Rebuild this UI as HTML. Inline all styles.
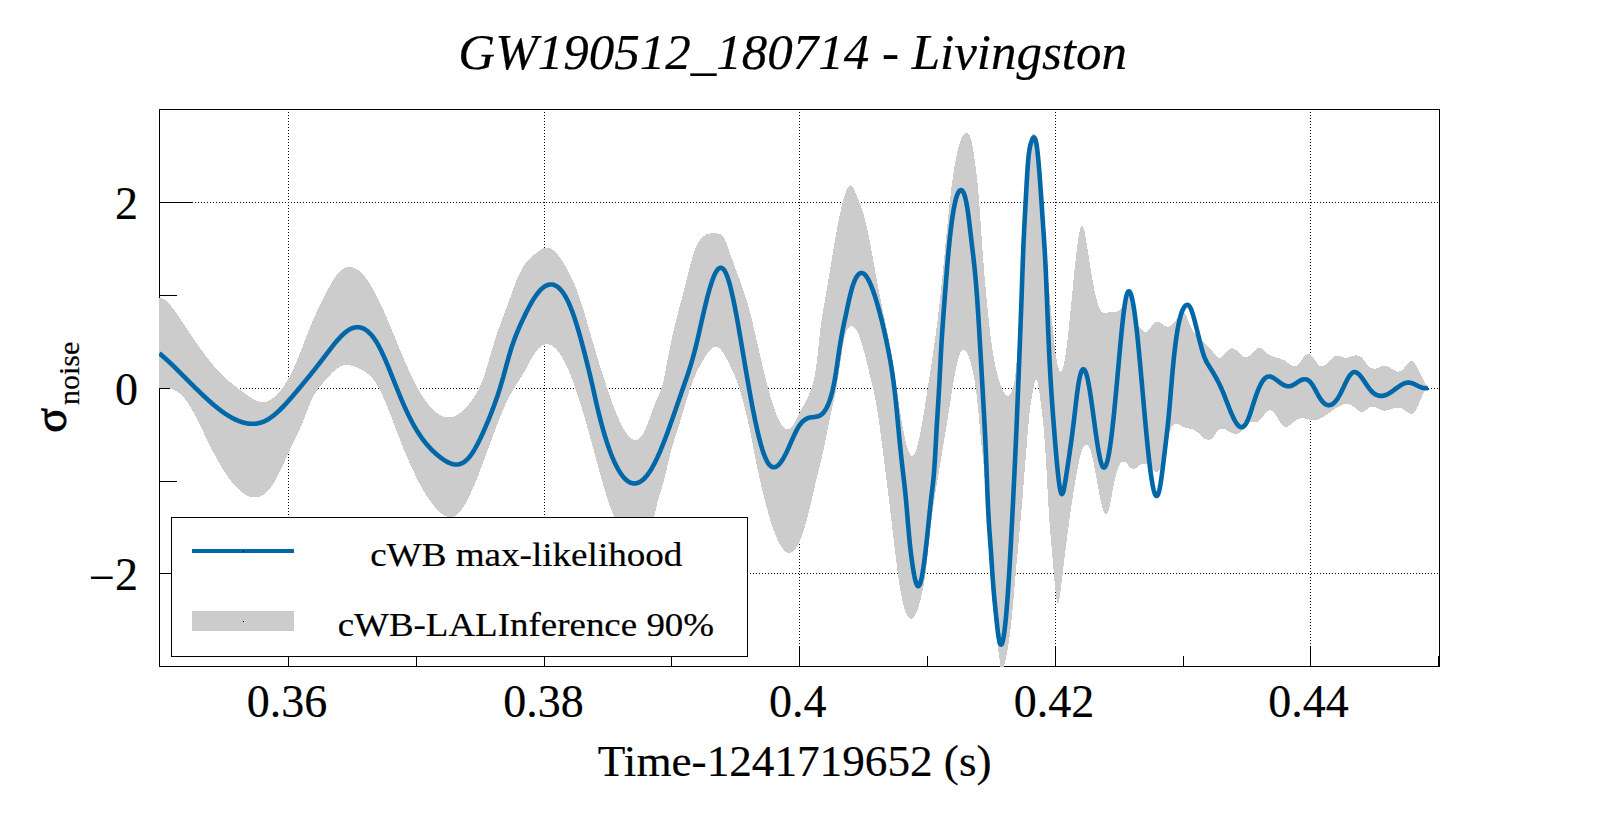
<!DOCTYPE html>
<html lang="en"><head><meta charset="utf-8"><title>GW190512_180714 - Livingston</title>
<style>html,body{margin:0;padding:0;background:#fff}body{width:1599px;height:813px;overflow:hidden}svg{display:block}text{font-family:"Liberation Serif","DejaVu Serif",serif;fill:#000;stroke:#000;stroke-width:0.2px}</style></head><body>
<svg width="1599" height="813" viewBox="0 0 1599 813">
<rect width="1599" height="813" fill="#fff"/>
<defs><clipPath id="fr"><rect x="159" y="109" width="1281" height="558"/></clipPath></defs>
<g stroke="#000" stroke-width="1" shape-rendering="crispEdges" fill="none"><g stroke-dasharray="1 2"><line x1="288.5" y1="646.5" x2="288.5" y2="109.5"/><line x1="544.5" y1="646.5" x2="544.5" y2="109.5"/><line x1="799.5" y1="646.5" x2="799.5" y2="109.5"/><line x1="1055.5" y1="646.5" x2="1055.5" y2="109.5"/><line x1="1310.5" y1="646.5" x2="1310.5" y2="109.5"/><line x1="191.5" y1="202.5" x2="1439.5" y2="202.5"/><line x1="191.5" y1="388.5" x2="1439.5" y2="388.5"/><line x1="191.5" y1="573.5" x2="1439.5" y2="573.5"/></g><rect x="159.5" y="109.5" width="1280.0" height="557.0"/><line x1="288.5" y1="666.5" x2="288.5" y2="646.5"/><line x1="416.5" y1="666.5" x2="416.5" y2="655.5"/><line x1="544.5" y1="666.5" x2="544.5" y2="646.5"/><line x1="671.5" y1="666.5" x2="671.5" y2="655.5"/><line x1="799.5" y1="666.5" x2="799.5" y2="646.5"/><line x1="927.5" y1="666.5" x2="927.5" y2="655.5"/><line x1="1055.5" y1="666.5" x2="1055.5" y2="646.5"/><line x1="1183.5" y1="666.5" x2="1183.5" y2="655.5"/><line x1="1310.5" y1="666.5" x2="1310.5" y2="646.5"/><line x1="1438.5" y1="666.5" x2="1438.5" y2="655.5"/><line x1="159.5" y1="202.5" x2="192.5" y2="202.5"/><line x1="159.5" y1="388.5" x2="192.5" y2="388.5"/><line x1="159.5" y1="573.5" x2="192.5" y2="573.5"/><line x1="159.5" y1="295.5" x2="176.5" y2="295.5"/><line x1="159.5" y1="481.5" x2="176.5" y2="481.5"/></g>
<g clip-path="url(#fr)"><path d="M159.0 297.5L159.5 297.5L160.0 297.6L160.5 297.7L161.0 297.9L161.5 298.1L162.0 298.3L162.5 298.5L163.0 298.8L163.5 299.0L164.0 299.3L164.5 299.7L165.0 300.0L165.5 300.4L166.0 300.8L166.5 301.2L167.0 301.7L167.5 302.1L168.0 302.6L168.5 303.1L169.0 303.6L169.5 304.2L170.0 304.7L170.5 305.3L171.0 305.9L171.5 306.5L172.0 307.1L172.5 307.7L173.0 308.3L173.5 309.0L174.0 309.7L174.5 310.3L175.0 311.0L175.5 311.7L176.0 312.4L176.5 313.1L177.0 313.8L177.5 314.6L178.0 315.3L178.5 316.0L179.0 316.8L179.5 317.5L180.0 318.3L180.5 319.1L181.0 319.8L181.5 320.6L182.0 321.3L182.5 322.1L183.0 322.9L183.5 323.6L184.0 324.4L184.5 325.1L185.0 325.9L185.5 326.7L186.0 327.4L186.5 328.2L187.0 328.9L187.5 329.7L188.0 330.4L188.5 331.2L189.0 331.9L189.5 332.7L190.0 333.4L190.5 334.2L191.0 334.9L191.5 335.7L192.0 336.4L192.5 337.2L193.0 337.9L193.5 338.6L194.0 339.4L194.5 340.1L195.0 340.8L195.5 341.5L196.0 342.3L196.5 343.0L197.0 343.7L197.5 344.4L198.0 345.1L198.5 345.9L199.0 346.6L199.5 347.3L200.0 348.0L200.5 348.7L201.0 349.4L201.5 350.1L202.0 350.8L202.5 351.4L203.0 352.1L203.5 352.8L204.0 353.5L204.5 354.1L205.0 354.8L205.5 355.5L206.0 356.1L206.5 356.8L207.0 357.4L207.5 358.1L208.0 358.7L208.5 359.4L209.0 360.0L209.5 360.6L210.0 361.2L210.5 361.9L211.0 362.5L211.5 363.1L212.0 363.7L212.5 364.3L213.0 364.9L213.5 365.5L214.0 366.0L214.5 366.6L215.0 367.2L215.5 367.7L216.0 368.3L216.5 368.9L217.0 369.4L217.5 369.9L218.0 370.5L218.5 371.0L219.0 371.5L219.5 372.1L220.0 372.6L220.5 373.1L221.0 373.6L221.5 374.1L222.0 374.6L222.5 375.1L223.0 375.6L223.5 376.0L224.0 376.5L224.5 377.0L225.0 377.5L225.5 377.9L226.0 378.4L226.5 378.8L227.0 379.3L227.5 379.8L228.0 380.2L228.5 380.6L229.0 381.1L229.5 381.5L230.0 381.9L230.5 382.4L231.0 382.8L231.5 383.2L232.0 383.6L232.5 384.0L233.0 384.4L233.5 384.9L234.0 385.3L234.5 385.7L235.0 386.1L235.5 386.4L236.0 386.8L236.5 387.2L237.0 387.6L237.5 388.0L238.0 388.4L238.5 388.8L239.0 389.1L239.5 389.5L240.0 389.9L240.5 390.3L241.0 390.6L241.5 391.0L242.0 391.4L242.5 391.7L243.0 392.1L243.5 392.4L244.0 392.8L244.5 393.2L245.0 393.5L245.5 393.9L246.0 394.2L246.5 394.6L247.0 394.9L247.5 395.3L248.0 395.6L248.5 396.0L249.0 396.3L249.5 396.7L250.0 397.0L250.5 397.3L251.0 397.7L251.5 398.0L252.0 398.3L252.5 398.6L253.0 398.9L253.5 399.2L254.0 399.5L254.5 399.7L255.0 400.0L255.5 400.2L256.0 400.5L256.5 400.7L257.0 400.9L257.5 401.1L258.0 401.3L258.5 401.4L259.0 401.6L259.5 401.7L260.0 401.8L260.5 401.9L261.0 402.0L261.5 402.0L262.0 402.0L262.5 402.1L263.0 402.0L263.5 402.0L264.0 402.0L264.5 401.9L265.0 401.8L265.5 401.7L266.0 401.6L266.5 401.5L267.0 401.3L267.5 401.2L268.0 401.0L268.5 400.8L269.0 400.5L269.5 400.3L270.0 400.0L270.5 399.7L271.0 399.4L271.5 399.1L272.0 398.8L272.5 398.4L273.0 398.1L273.5 397.7L274.0 397.3L274.5 396.9L275.0 396.4L275.5 396.0L276.0 395.5L276.5 395.0L277.0 394.5L277.5 394.0L278.0 393.5L278.5 392.9L279.0 392.3L279.5 391.8L280.0 391.1L280.5 390.5L281.0 389.9L281.5 389.2L282.0 388.6L282.5 387.9L283.0 387.2L283.5 386.5L284.0 385.7L284.5 385.0L285.0 384.2L285.5 383.4L286.0 382.6L286.5 381.8L287.0 381.0L287.5 380.2L288.0 379.3L288.5 378.4L289.0 377.5L289.5 376.6L290.0 375.7L290.5 374.7L291.0 373.8L291.5 372.8L292.0 371.8L292.5 370.8L293.0 369.7L293.5 368.6L294.0 367.6L294.5 366.5L295.0 365.3L295.5 364.2L296.0 363.0L296.5 361.9L297.0 360.7L297.5 359.5L298.0 358.2L298.5 357.0L299.0 355.8L299.5 354.5L300.0 353.2L300.5 351.9L301.0 350.7L301.5 349.4L302.0 348.1L302.5 346.8L303.0 345.5L303.5 344.1L304.0 342.8L304.5 341.5L305.0 340.2L305.5 338.9L306.0 337.6L306.5 336.3L307.0 335.0L307.5 333.7L308.0 332.4L308.5 331.2L309.0 329.9L309.5 328.7L310.0 327.4L310.5 326.2L311.0 325.0L311.5 323.8L312.0 322.6L312.5 321.5L313.0 320.3L313.5 319.1L314.0 318.0L314.5 316.9L315.0 315.8L315.5 314.7L316.0 313.6L316.5 312.5L317.0 311.4L317.5 310.3L318.0 309.3L318.5 308.2L319.0 307.2L319.5 306.1L320.0 305.1L320.5 304.1L321.0 303.1L321.5 302.0L322.0 301.0L322.5 300.0L323.0 299.0L323.5 298.0L324.0 297.0L324.5 296.1L325.0 295.1L325.5 294.1L326.0 293.1L326.5 292.1L327.0 291.2L327.5 290.2L328.0 289.3L328.5 288.3L329.0 287.4L329.5 286.5L330.0 285.5L330.5 284.6L331.0 283.8L331.5 282.9L332.0 282.0L332.5 281.2L333.0 280.4L333.5 279.6L334.0 278.8L334.5 278.0L335.0 277.3L335.5 276.6L336.0 275.9L336.5 275.2L337.0 274.6L337.5 273.9L338.0 273.3L338.5 272.8L339.0 272.2L339.5 271.7L340.0 271.3L340.5 270.8L341.0 270.4L341.5 270.0L342.0 269.6L342.5 269.2L343.0 268.9L343.5 268.6L344.0 268.3L344.5 268.1L345.0 267.8L345.5 267.6L346.0 267.5L346.5 267.3L347.0 267.2L347.5 267.1L348.0 267.0L348.5 266.9L349.0 266.9L349.5 266.9L350.0 266.9L350.5 266.9L351.0 267.0L351.5 267.1L352.0 267.2L352.5 267.3L353.0 267.4L353.5 267.6L354.0 267.8L354.5 268.0L355.0 268.2L355.5 268.5L356.0 268.8L356.5 269.1L357.0 269.4L357.5 269.7L358.0 270.1L358.5 270.4L359.0 270.8L359.5 271.2L360.0 271.7L360.5 272.1L361.0 272.6L361.5 273.1L362.0 273.6L362.5 274.1L363.0 274.7L363.5 275.2L364.0 275.8L364.5 276.4L365.0 277.0L365.5 277.7L366.0 278.3L366.5 279.0L367.0 279.7L367.5 280.4L368.0 281.1L368.5 281.8L369.0 282.6L369.5 283.3L370.0 284.1L370.5 284.9L371.0 285.7L371.5 286.6L372.0 287.4L372.5 288.3L373.0 289.1L373.5 290.0L374.0 290.9L374.5 291.8L375.0 292.8L375.5 293.7L376.0 294.7L376.5 295.6L377.0 296.6L377.5 297.6L378.0 298.6L378.5 299.7L379.0 300.7L379.5 301.7L380.0 302.8L380.5 303.8L381.0 304.9L381.5 306.0L382.0 307.1L382.5 308.2L383.0 309.3L383.5 310.4L384.0 311.5L384.5 312.7L385.0 313.8L385.5 315.0L386.0 316.1L386.5 317.3L387.0 318.4L387.5 319.6L388.0 320.8L388.5 322.0L389.0 323.2L389.5 324.4L390.0 325.5L390.5 326.7L391.0 327.9L391.5 329.2L392.0 330.4L392.5 331.6L393.0 332.8L393.5 334.0L394.0 335.2L394.5 336.4L395.0 337.7L395.5 338.9L396.0 340.1L396.5 341.3L397.0 342.5L397.5 343.7L398.0 345.0L398.5 346.2L399.0 347.4L399.5 348.6L400.0 349.8L400.5 351.0L401.0 352.2L401.5 353.4L402.0 354.6L402.5 355.8L403.0 357.0L403.5 358.1L404.0 359.3L404.5 360.5L405.0 361.6L405.5 362.8L406.0 363.9L406.5 365.1L407.0 366.2L407.5 367.3L408.0 368.4L408.5 369.6L409.0 370.7L409.5 371.7L410.0 372.8L410.5 373.9L411.0 375.0L411.5 376.0L412.0 377.1L412.5 378.1L413.0 379.1L413.5 380.1L414.0 381.1L414.5 382.1L415.0 383.1L415.5 384.0L416.0 385.0L416.5 385.9L417.0 386.8L417.5 387.7L418.0 388.6L418.5 389.5L419.0 390.4L419.5 391.3L420.0 392.1L420.5 393.0L421.0 393.8L421.5 394.6L422.0 395.4L422.5 396.2L423.0 397.0L423.5 397.7L424.0 398.5L424.5 399.2L425.0 399.9L425.5 400.6L426.0 401.3L426.5 402.0L427.0 402.7L427.5 403.3L428.0 404.0L428.5 404.6L429.0 405.2L429.5 405.8L430.0 406.4L430.5 407.0L431.0 407.5L431.5 408.1L432.0 408.6L432.5 409.1L433.0 409.6L433.5 410.1L434.0 410.5L434.5 411.0L435.0 411.4L435.5 411.9L436.0 412.3L436.5 412.7L437.0 413.0L437.5 413.4L438.0 413.7L438.5 414.1L439.0 414.4L439.5 414.7L440.0 415.0L440.5 415.2L441.0 415.5L441.5 415.7L442.0 416.0L442.5 416.2L443.0 416.3L443.5 416.5L444.0 416.7L444.5 416.8L445.0 416.9L445.5 417.0L446.0 417.1L446.5 417.2L447.0 417.3L447.5 417.3L448.0 417.3L448.5 417.3L449.0 417.3L449.5 417.3L450.0 417.2L450.5 417.2L451.0 417.1L451.5 417.0L452.0 416.9L452.5 416.8L453.0 416.6L453.5 416.5L454.0 416.3L454.5 416.1L455.0 415.9L455.5 415.7L456.0 415.4L456.5 415.2L457.0 414.9L457.5 414.6L458.0 414.3L458.5 414.0L459.0 413.7L459.5 413.3L460.0 413.0L460.5 412.6L461.0 412.2L461.5 411.8L462.0 411.4L462.5 410.9L463.0 410.5L463.5 410.0L464.0 409.6L464.5 409.1L465.0 408.6L465.5 408.0L466.0 407.5L466.5 407.0L467.0 406.4L467.5 405.8L468.0 405.3L468.5 404.7L469.0 404.0L469.5 403.4L470.0 402.8L470.5 402.1L471.0 401.5L471.5 400.8L472.0 400.1L472.5 399.4L473.0 398.7L473.5 398.0L474.0 397.2L474.5 396.4L475.0 395.7L475.5 394.9L476.0 394.0L476.5 393.2L477.0 392.3L477.5 391.4L478.0 390.4L478.5 389.5L479.0 388.5L479.5 387.4L480.0 386.3L480.5 385.2L481.0 384.1L481.5 382.8L482.0 381.6L482.5 380.3L483.0 378.9L483.5 377.6L484.0 376.1L484.5 374.6L485.0 373.1L485.5 371.6L486.0 370.0L486.5 368.4L487.0 366.8L487.5 365.1L488.0 363.5L488.5 361.8L489.0 360.1L489.5 358.4L490.0 356.7L490.5 355.0L491.0 353.3L491.5 351.5L492.0 349.8L492.5 348.2L493.0 346.5L493.5 344.8L494.0 343.2L494.5 341.5L495.0 339.9L495.5 338.4L496.0 336.8L496.5 335.3L497.0 333.8L497.5 332.3L498.0 330.9L498.5 329.4L499.0 328.0L499.5 326.6L500.0 325.2L500.5 323.9L501.0 322.5L501.5 321.1L502.0 319.8L502.5 318.4L503.0 317.1L503.5 315.8L504.0 314.4L504.5 313.1L505.0 311.8L505.5 310.4L506.0 309.1L506.5 307.7L507.0 306.4L507.5 305.0L508.0 303.6L508.5 302.2L509.0 300.9L509.5 299.5L510.0 298.1L510.5 296.7L511.0 295.3L511.5 293.9L512.0 292.5L512.5 291.1L513.0 289.7L513.5 288.3L514.0 287.0L514.5 285.7L515.0 284.3L515.5 283.0L516.0 281.8L516.5 280.5L517.0 279.3L517.5 278.1L518.0 276.9L518.5 275.7L519.0 274.6L519.5 273.6L520.0 272.5L520.5 271.5L521.0 270.6L521.5 269.6L522.0 268.7L522.5 267.9L523.0 267.1L523.5 266.3L524.0 265.5L524.5 264.8L525.0 264.1L525.5 263.4L526.0 262.7L526.5 262.1L527.0 261.5L527.5 260.9L528.0 260.4L528.5 259.8L529.0 259.3L529.5 258.8L530.0 258.3L530.5 257.8L531.0 257.3L531.5 256.9L532.0 256.4L532.5 256.0L533.0 255.6L533.5 255.2L534.0 254.7L534.5 254.3L535.0 253.9L535.5 253.5L536.0 253.1L536.5 252.7L537.0 252.3L537.5 251.9L538.0 251.6L538.5 251.2L539.0 250.8L539.5 250.5L540.0 250.2L540.5 249.9L541.0 249.5L541.5 249.3L542.0 249.0L542.5 248.7L543.0 248.5L543.5 248.3L544.0 248.1L544.5 248.0L545.0 247.8L545.5 247.7L546.0 247.6L546.5 247.6L547.0 247.6L547.5 247.6L548.0 247.6L548.5 247.7L549.0 247.8L549.5 247.9L550.0 248.1L550.5 248.3L551.0 248.6L551.5 248.9L552.0 249.2L552.5 249.5L553.0 249.9L553.5 250.3L554.0 250.7L554.5 251.2L555.0 251.7L555.5 252.2L556.0 252.7L556.5 253.3L557.0 253.8L557.5 254.4L558.0 255.1L558.5 255.7L559.0 256.4L559.5 257.0L560.0 257.7L560.5 258.4L561.0 259.2L561.5 259.9L562.0 260.7L562.5 261.4L563.0 262.2L563.5 263.0L564.0 263.8L564.5 264.6L565.0 265.4L565.5 266.3L566.0 267.1L566.5 268.0L567.0 268.9L567.5 269.8L568.0 270.7L568.5 271.7L569.0 272.6L569.5 273.6L570.0 274.6L570.5 275.6L571.0 276.6L571.5 277.7L572.0 278.7L572.5 279.8L573.0 280.9L573.5 282.1L574.0 283.2L574.5 284.4L575.0 285.6L575.5 286.8L576.0 288.1L576.5 289.4L577.0 290.7L577.5 292.0L578.0 293.4L578.5 294.7L579.0 296.1L579.5 297.6L580.0 299.0L580.5 300.5L581.0 302.1L581.5 303.6L582.0 305.2L582.5 306.8L583.0 308.4L583.5 310.0L584.0 311.7L584.5 313.3L585.0 315.0L585.5 316.7L586.0 318.4L586.5 320.1L587.0 321.9L587.5 323.6L588.0 325.3L588.5 327.1L589.0 328.8L589.5 330.6L590.0 332.3L590.5 334.0L591.0 335.8L591.5 337.5L592.0 339.2L592.5 340.9L593.0 342.7L593.5 344.4L594.0 346.1L594.5 347.8L595.0 349.5L595.5 351.2L596.0 352.9L596.5 354.5L597.0 356.2L597.5 357.9L598.0 359.5L598.5 361.2L599.0 362.8L599.5 364.5L600.0 366.1L600.5 367.7L601.0 369.3L601.5 371.0L602.0 372.5L602.5 374.1L603.0 375.7L603.5 377.3L604.0 378.8L604.5 380.4L605.0 381.9L605.5 383.4L606.0 385.0L606.5 386.5L607.0 388.0L607.5 389.4L608.0 390.9L608.5 392.4L609.0 393.8L609.5 395.2L610.0 396.6L610.5 398.0L611.0 399.4L611.5 400.8L612.0 402.2L612.5 403.5L613.0 404.8L613.5 406.2L614.0 407.5L614.5 408.8L615.0 410.0L615.5 411.3L616.0 412.5L616.5 413.7L617.0 414.9L617.5 416.1L618.0 417.3L618.5 418.4L619.0 419.5L619.5 420.6L620.0 421.7L620.5 422.8L621.0 423.8L621.5 424.8L622.0 425.8L622.5 426.8L623.0 427.7L623.5 428.6L624.0 429.5L624.5 430.3L625.0 431.1L625.5 431.9L626.0 432.6L626.5 433.4L627.0 434.0L627.5 434.7L628.0 435.3L628.5 435.9L629.0 436.4L629.5 436.9L630.0 437.4L630.5 437.9L631.0 438.3L631.5 438.6L632.0 438.9L632.5 439.2L633.0 439.4L633.5 439.6L634.0 439.8L634.5 439.9L635.0 440.0L635.5 440.0L636.0 439.9L636.5 439.9L637.0 439.7L637.5 439.5L638.0 439.3L638.5 439.0L639.0 438.7L639.5 438.3L640.0 437.8L640.5 437.3L641.0 436.7L641.5 436.1L642.0 435.4L642.5 434.6L643.0 433.8L643.5 432.9L644.0 431.9L644.5 430.9L645.0 429.9L645.5 428.7L646.0 427.6L646.5 426.4L647.0 425.2L647.5 423.9L648.0 422.6L648.5 421.3L649.0 420.0L649.5 418.6L650.0 417.2L650.5 415.9L651.0 414.5L651.5 413.1L652.0 411.7L652.5 410.3L653.0 409.0L653.5 407.6L654.0 406.3L654.5 404.9L655.0 403.6L655.5 402.4L656.0 401.1L656.5 399.9L657.0 398.8L657.5 397.7L658.0 396.6L658.5 395.5L659.0 394.5L659.5 393.4L660.0 392.2L660.5 391.0L661.0 389.7L661.5 388.3L662.0 386.7L662.5 384.9L663.0 382.9L663.5 380.8L664.0 378.5L664.5 376.0L665.0 373.5L665.5 370.9L666.0 368.2L666.5 365.5L667.0 362.8L667.5 360.1L668.0 357.5L668.5 354.9L669.0 352.3L669.5 349.8L670.0 347.3L670.5 344.8L671.0 342.4L671.5 340.0L672.0 337.7L672.5 335.4L673.0 333.2L673.5 331.0L674.0 328.8L674.5 326.7L675.0 324.6L675.5 322.6L676.0 320.6L676.5 318.6L677.0 316.7L677.5 314.8L678.0 312.9L678.5 311.0L679.0 309.1L679.5 307.3L680.0 305.4L680.5 303.5L681.0 301.7L681.5 299.8L682.0 297.9L682.5 295.9L683.0 294.0L683.5 292.0L684.0 290.0L684.5 288.0L685.0 286.0L685.5 283.9L686.0 281.9L686.5 279.9L687.0 277.9L687.5 275.8L688.0 273.8L688.5 271.9L689.0 269.9L689.5 268.0L690.0 266.1L690.5 264.2L691.0 262.4L691.5 260.6L692.0 258.8L692.5 257.1L693.0 255.5L693.5 253.9L694.0 252.4L694.5 250.9L695.0 249.5L695.5 248.2L696.0 247.0L696.5 245.9L697.0 244.8L697.5 243.8L698.0 242.9L698.5 242.0L699.0 241.2L699.5 240.5L700.0 239.8L700.5 239.2L701.0 238.6L701.5 238.0L702.0 237.5L702.5 237.1L703.0 236.7L703.5 236.3L704.0 235.9L704.5 235.5L705.0 235.2L705.5 234.9L706.0 234.7L706.5 234.4L707.0 234.2L707.5 234.0L708.0 233.9L708.5 233.7L709.0 233.6L709.5 233.5L710.0 233.4L710.5 233.3L711.0 233.3L711.5 233.2L712.0 233.2L712.5 233.2L713.0 233.2L713.5 233.2L714.0 233.2L714.5 233.2L715.0 233.2L715.5 233.3L716.0 233.3L716.5 233.4L717.0 233.4L717.5 233.5L718.0 233.5L718.5 233.6L719.0 233.7L719.5 233.8L720.0 233.9L720.5 234.1L721.0 234.4L721.5 234.7L722.0 235.1L722.5 235.6L723.0 236.2L723.5 236.9L724.0 237.7L724.5 238.6L725.0 239.6L725.5 240.7L726.0 242.0L726.5 243.2L727.0 244.6L727.5 246.0L728.0 247.4L728.5 248.9L729.0 250.3L729.5 251.8L730.0 253.3L730.5 254.8L731.0 256.2L731.5 257.6L732.0 259.0L732.5 260.4L733.0 261.8L733.5 263.2L734.0 264.5L734.5 265.9L735.0 267.2L735.5 268.6L736.0 269.9L736.5 271.2L737.0 272.6L737.5 273.9L738.0 275.3L738.5 276.6L739.0 278.0L739.5 279.3L740.0 280.7L740.5 282.1L741.0 283.5L741.5 284.9L742.0 286.3L742.5 287.8L743.0 289.2L743.5 290.7L744.0 292.2L744.5 293.7L745.0 295.3L745.5 296.9L746.0 298.5L746.5 300.1L747.0 301.8L747.5 303.4L748.0 305.2L748.5 306.9L749.0 308.7L749.5 310.6L750.0 312.5L750.5 314.4L751.0 316.3L751.5 318.3L752.0 320.4L752.5 322.4L753.0 324.5L753.5 326.6L754.0 328.7L754.5 330.9L755.0 333.0L755.5 335.2L756.0 337.4L756.5 339.6L757.0 341.8L757.5 344.0L758.0 346.1L758.5 348.3L759.0 350.5L759.5 352.7L760.0 354.9L760.5 357.0L761.0 359.2L761.5 361.3L762.0 363.4L762.5 365.5L763.0 367.6L763.5 369.7L764.0 371.8L764.5 373.9L765.0 375.9L765.5 377.9L766.0 379.9L766.5 381.9L767.0 383.8L767.5 385.7L768.0 387.6L768.5 389.5L769.0 391.3L769.5 393.1L770.0 394.9L770.5 396.7L771.0 398.4L771.5 400.1L772.0 401.7L772.5 403.3L773.0 404.9L773.5 406.4L774.0 407.9L774.5 409.4L775.0 410.8L775.5 412.2L776.0 413.5L776.5 414.8L777.0 416.0L777.5 417.2L778.0 418.3L778.5 419.4L779.0 420.4L779.5 421.4L780.0 422.3L780.5 423.2L781.0 424.0L781.5 424.8L782.0 425.5L782.5 426.1L783.0 426.7L783.5 427.2L784.0 427.7L784.5 428.1L785.0 428.5L785.5 428.8L786.0 429.0L786.5 429.2L787.0 429.3L787.5 429.3L788.0 429.3L788.5 429.2L789.0 429.0L789.5 428.8L790.0 428.5L790.5 428.2L791.0 427.8L791.5 427.3L792.0 426.7L792.5 426.1L793.0 425.4L793.5 424.7L794.0 423.8L794.5 423.0L795.0 422.1L795.5 421.1L796.0 420.2L796.5 419.2L797.0 418.1L797.5 417.1L798.0 416.1L798.5 415.0L799.0 414.0L799.5 413.0L800.0 412.0L800.5 411.0L801.0 410.1L801.5 409.1L802.0 408.2L802.5 407.3L803.0 406.4L803.5 405.5L804.0 404.6L804.5 403.7L805.0 402.8L805.5 401.8L806.0 400.9L806.5 399.9L807.0 398.9L807.5 397.8L808.0 396.7L808.5 395.6L809.0 394.5L809.5 393.2L810.0 392.0L810.5 390.7L811.0 389.3L811.5 387.8L812.0 386.3L812.5 384.7L813.0 383.0L813.5 381.2L814.0 379.2L814.5 377.0L815.0 374.4L815.5 371.5L816.0 368.1L816.5 364.3L817.0 360.1L817.5 355.6L818.0 351.0L818.5 346.2L819.0 341.5L819.5 336.9L820.0 332.5L820.5 328.4L821.0 324.6L821.5 321.0L822.0 317.7L822.5 314.5L823.0 311.4L823.5 308.5L824.0 305.6L824.5 302.8L825.0 300.0L825.5 297.1L826.0 294.2L826.5 291.2L827.0 288.3L827.5 285.3L828.0 282.3L828.5 279.3L829.0 276.2L829.5 273.2L830.0 270.1L830.5 267.1L831.0 264.1L831.5 261.0L832.0 258.0L832.5 255.0L833.0 252.0L833.5 249.1L834.0 246.1L834.5 243.2L835.0 240.3L835.5 237.5L836.0 234.7L836.5 231.9L837.0 229.2L837.5 226.5L838.0 223.9L838.5 221.3L839.0 218.8L839.5 216.4L840.0 214.0L840.5 211.7L841.0 209.4L841.5 207.2L842.0 205.2L842.5 203.2L843.0 201.2L843.5 199.4L844.0 197.6L844.5 196.0L845.0 194.5L845.5 193.0L846.0 191.7L846.5 190.4L847.0 189.3L847.5 188.3L848.0 187.4L848.5 186.7L849.0 186.1L849.5 185.6L850.0 185.4L850.5 185.3L851.0 185.4L851.5 185.7L852.0 186.1L852.5 186.7L853.0 187.4L853.5 188.3L854.0 189.2L854.5 190.2L855.0 191.4L855.5 192.5L856.0 193.8L856.5 195.0L857.0 196.3L857.5 197.6L858.0 198.9L858.5 200.2L859.0 201.5L859.5 202.7L860.0 204.1L860.5 205.4L861.0 206.8L861.5 208.2L862.0 209.6L862.5 211.1L863.0 212.7L863.5 214.3L864.0 216.0L864.5 217.8L865.0 219.7L865.5 221.6L866.0 223.7L866.5 225.8L867.0 228.0L867.5 230.3L868.0 232.6L868.5 235.0L869.0 237.5L869.5 240.0L870.0 242.5L870.5 245.2L871.0 247.8L871.5 250.5L872.0 253.2L872.5 255.9L873.0 258.7L873.5 261.5L874.0 264.3L874.5 267.1L875.0 269.9L875.5 272.7L876.0 275.5L876.5 278.2L877.0 281.0L877.5 283.7L878.0 286.4L878.5 289.1L879.0 291.8L879.5 294.4L880.0 296.9L880.5 299.4L881.0 301.9L881.5 304.3L882.0 306.7L882.5 309.1L883.0 311.4L883.5 313.8L884.0 316.1L884.5 318.4L885.0 320.8L885.5 323.1L886.0 325.4L886.5 327.8L887.0 330.2L887.5 332.6L888.0 335.1L888.5 337.6L889.0 340.2L889.5 342.8L890.0 345.5L890.5 348.3L891.0 351.1L891.5 354.0L892.0 357.0L892.5 360.1L893.0 363.3L893.5 366.5L894.0 369.9L894.5 373.3L895.0 376.7L895.5 380.2L896.0 383.7L896.5 387.1L897.0 390.6L897.5 394.1L898.0 397.5L898.5 400.9L899.0 404.2L899.5 407.5L900.0 410.7L900.5 413.8L901.0 416.9L901.5 419.9L902.0 422.8L902.5 425.7L903.0 428.4L903.5 431.1L904.0 433.6L904.5 436.1L905.0 438.4L905.5 440.6L906.0 442.7L906.5 444.6L907.0 446.5L907.5 448.1L908.0 449.7L908.5 451.0L909.0 452.3L909.5 453.3L910.0 454.2L910.5 454.9L911.0 455.5L911.5 455.8L912.0 456.0L912.5 456.0L913.0 455.7L913.5 455.3L914.0 454.7L914.5 453.9L915.0 452.9L915.5 451.7L916.0 450.3L916.5 448.8L917.0 447.1L917.5 445.3L918.0 443.4L918.5 441.3L919.0 439.1L919.5 436.8L920.0 434.3L920.5 431.8L921.0 429.1L921.5 426.4L922.0 423.6L922.5 420.7L923.0 417.8L923.5 414.8L924.0 411.7L924.5 408.6L925.0 405.5L925.5 402.3L926.0 399.2L926.5 396.0L927.0 392.8L927.5 389.5L928.0 386.3L928.5 383.1L929.0 379.9L929.5 376.7L930.0 373.5L930.5 370.3L931.0 367.0L931.5 363.7L932.0 360.4L932.5 357.1L933.0 353.7L933.5 350.3L934.0 346.8L934.5 343.2L935.0 339.6L935.5 336.0L936.0 332.2L936.5 328.4L937.0 324.5L937.5 320.6L938.0 316.5L938.5 312.4L939.0 308.1L939.5 303.8L940.0 299.3L940.5 294.8L941.0 290.1L941.5 285.3L942.0 280.4L942.5 275.4L943.0 270.3L943.5 265.2L944.0 260.0L944.5 254.8L945.0 249.6L945.5 244.3L946.0 239.1L946.5 234.0L947.0 228.9L947.5 223.8L948.0 218.8L948.5 213.9L949.0 209.2L949.5 204.5L950.0 200.0L950.5 195.7L951.0 191.5L951.5 187.5L952.0 183.6L952.5 179.9L953.0 176.3L953.5 172.9L954.0 169.6L954.5 166.5L955.0 163.6L955.5 160.8L956.0 158.1L956.5 155.6L957.0 153.2L957.5 151.0L958.0 149.0L958.5 147.0L959.0 145.2L959.5 143.6L960.0 142.0L960.5 140.6L961.0 139.4L961.5 138.2L962.0 137.2L962.5 136.3L963.0 135.5L963.5 134.8L964.0 134.3L964.5 133.8L965.0 133.5L965.5 133.3L966.0 133.1L966.5 133.1L967.0 133.2L967.5 133.3L968.0 133.6L968.5 134.0L969.0 134.5L969.5 135.3L970.0 136.3L970.5 137.6L971.0 139.3L971.5 141.3L972.0 143.6L972.5 146.2L973.0 149.1L973.5 152.2L974.0 155.5L974.5 159.0L975.0 162.6L975.5 166.4L976.0 170.3L976.5 174.3L977.0 178.7L977.5 183.4L978.0 188.5L978.5 194.0L979.0 200.0L979.5 206.5L980.0 213.4L980.5 220.7L981.0 228.1L981.5 235.5L982.0 242.9L982.5 250.1L983.0 256.9L983.5 263.4L984.0 269.6L984.5 275.6L985.0 281.4L985.5 287.0L986.0 292.4L986.5 297.7L987.0 302.9L987.5 308.0L988.0 313.0L988.5 317.8L989.0 322.5L989.5 327.1L990.0 331.4L990.5 335.6L991.0 339.5L991.5 343.3L992.0 346.8L992.5 350.2L993.0 353.4L993.5 356.4L994.0 359.3L994.5 362.0L995.0 364.5L995.5 366.9L996.0 369.2L996.5 371.4L997.0 373.4L997.5 375.3L998.0 377.1L998.5 378.8L999.0 380.4L999.5 381.9L1000.0 383.3L1000.5 384.7L1001.0 386.0L1001.5 387.3L1002.0 388.4L1002.5 389.6L1003.0 390.6L1003.5 391.5L1004.0 392.4L1004.5 393.2L1005.0 393.9L1005.5 394.5L1006.0 395.0L1006.5 395.4L1007.0 395.6L1007.5 395.7L1008.0 395.8L1008.5 395.6L1009.0 395.4L1009.5 395.0L1010.0 394.4L1010.5 393.7L1011.0 392.9L1011.5 391.9L1012.0 390.7L1012.5 389.3L1013.0 387.7L1013.5 385.9L1014.0 383.6L1014.5 380.8L1015.0 377.4L1015.5 373.4L1016.0 368.6L1016.5 363.2L1017.0 357.0L1017.5 350.2L1018.0 342.8L1018.5 334.7L1019.0 326.0L1019.5 316.8L1020.0 306.7L1020.5 295.4L1021.0 283.0L1021.5 269.9L1022.0 257.1L1022.5 245.2L1023.0 234.1L1023.5 223.7L1024.0 213.7L1024.5 204.1L1025.0 194.6L1025.5 185.5L1026.0 177.0L1026.5 169.2L1027.0 162.4L1027.5 156.8L1028.0 152.2L1028.5 148.5L1029.0 145.5L1029.5 143.0L1030.0 140.9L1030.5 139.1L1031.0 137.5L1031.5 136.1L1032.0 135.0L1032.5 134.2L1033.0 133.7L1033.5 133.5L1034.0 133.7L1034.5 134.2L1035.0 135.1L1035.5 136.4L1036.0 138.2L1036.5 140.3L1037.0 142.9L1037.5 145.9L1038.0 149.4L1038.5 153.3L1039.0 157.7L1039.5 162.4L1040.0 167.5L1040.5 173.0L1041.0 178.7L1041.5 184.8L1042.0 191.1L1042.5 197.7L1043.0 204.5L1043.5 211.5L1044.0 218.7L1044.5 226.0L1045.0 233.4L1045.5 240.9L1046.0 248.3L1046.5 255.6L1047.0 262.8L1047.5 269.7L1048.0 276.2L1048.5 282.5L1049.0 288.5L1049.5 294.2L1050.0 299.8L1050.5 305.2L1051.0 310.4L1051.5 315.5L1052.0 320.5L1052.5 325.5L1053.0 330.5L1053.5 335.4L1054.0 340.1L1054.5 344.6L1055.0 348.8L1055.5 352.7L1056.0 356.1L1056.5 359.3L1057.0 362.1L1057.5 364.5L1058.0 366.5L1058.5 368.2L1059.0 369.6L1059.5 370.6L1060.0 371.2L1060.5 371.5L1061.0 371.4L1061.5 371.0L1062.0 370.2L1062.5 369.1L1063.0 367.6L1063.5 365.7L1064.0 363.6L1064.5 361.0L1065.0 358.2L1065.5 355.0L1066.0 351.6L1066.5 347.9L1067.0 343.9L1067.5 339.7L1068.0 335.4L1068.5 330.8L1069.0 326.1L1069.5 321.3L1070.0 316.3L1070.5 311.3L1071.0 306.2L1071.5 301.0L1072.0 295.8L1072.5 290.6L1073.0 285.4L1073.5 280.3L1074.0 275.3L1074.5 270.3L1075.0 265.5L1075.5 260.8L1076.0 256.3L1076.5 252.1L1077.0 248.0L1077.5 244.2L1078.0 240.7L1078.5 237.5L1079.0 234.6L1079.5 232.1L1080.0 230.0L1080.5 228.3L1081.0 227.0L1081.5 226.2L1082.0 225.8L1082.5 225.9L1083.0 226.5L1083.5 227.6L1084.0 229.2L1084.5 231.4L1085.0 233.9L1085.5 236.7L1086.0 239.7L1086.5 242.8L1087.0 245.9L1087.5 249.0L1088.0 252.2L1088.5 255.3L1089.0 258.5L1089.5 261.6L1090.0 264.8L1090.5 267.8L1091.0 270.9L1091.5 273.9L1092.0 276.9L1092.5 279.8L1093.0 282.6L1093.5 285.3L1094.0 287.9L1094.5 290.5L1095.0 292.9L1095.5 295.2L1096.0 297.4L1096.5 299.4L1097.0 301.3L1097.5 303.0L1098.0 304.6L1098.5 306.0L1099.0 307.2L1099.5 308.3L1100.0 309.3L1100.5 310.2L1101.0 310.9L1101.5 311.5L1102.0 312.0L1102.5 312.4L1103.0 312.7L1103.5 312.9L1104.0 313.1L1104.5 313.2L1105.0 313.2L1105.5 313.2L1106.0 313.1L1106.5 313.0L1107.0 312.9L1107.5 312.8L1108.0 312.6L1108.5 312.4L1109.0 312.3L1109.5 312.1L1110.0 311.9L1110.5 311.8L1111.0 311.7L1111.5 311.7L1112.0 311.7L1112.5 311.6L1113.0 311.6L1113.5 311.6L1114.0 311.7L1114.5 311.7L1115.0 311.6L1115.5 311.6L1116.0 311.6L1116.5 311.5L1117.0 311.4L1117.5 311.3L1118.0 311.1L1118.5 310.9L1119.0 310.6L1119.5 310.2L1120.0 309.8L1120.5 309.3L1121.0 308.8L1121.5 308.1L1122.0 307.4L1122.5 306.6L1123.0 305.6L1123.5 304.6L1124.0 303.5L1124.5 302.2L1125.0 300.8L1125.5 299.3L1126.0 297.7L1126.5 295.9L1127.0 294.2L1127.5 292.5L1128.0 291.1L1128.5 290.0L1129.0 289.3L1129.5 289.3L1130.0 289.8L1130.5 290.7L1131.0 292.2L1131.5 294.1L1132.0 296.3L1132.5 298.9L1133.0 301.8L1133.5 304.9L1134.0 308.1L1134.5 311.2L1135.0 314.2L1135.5 317.0L1136.0 319.5L1136.5 321.5L1137.0 323.2L1137.5 324.5L1138.0 325.5L1138.5 326.4L1139.0 327.0L1139.5 327.5L1140.0 328.0L1140.5 328.4L1141.0 328.9L1141.5 329.4L1142.0 330.0L1142.5 330.5L1143.0 331.0L1143.5 331.5L1144.0 331.8L1144.5 332.1L1145.0 332.3L1145.5 332.3L1146.0 332.2L1146.5 332.0L1147.0 331.7L1147.5 331.3L1148.0 330.8L1148.5 330.2L1149.0 329.6L1149.5 329.0L1150.0 328.4L1150.5 327.7L1151.0 327.0L1151.5 326.4L1152.0 325.7L1152.5 325.1L1153.0 324.5L1153.5 324.0L1154.0 323.5L1154.5 323.0L1155.0 322.6L1155.5 322.2L1156.0 321.9L1156.5 321.7L1157.0 321.6L1157.5 321.5L1158.0 321.5L1158.5 321.6L1159.0 321.7L1159.5 321.9L1160.0 322.2L1160.5 322.5L1161.0 322.9L1161.5 323.3L1162.0 323.7L1162.5 324.1L1163.0 324.5L1163.5 324.9L1164.0 325.2L1164.5 325.6L1165.0 325.9L1165.5 326.1L1166.0 326.3L1166.5 326.4L1167.0 326.5L1167.5 326.6L1168.0 326.6L1168.5 326.5L1169.0 326.4L1169.5 326.3L1170.0 326.1L1170.5 325.9L1171.0 325.6L1171.5 325.2L1172.0 324.9L1172.5 324.4L1173.0 323.9L1173.5 323.4L1174.0 322.8L1174.5 322.2L1175.0 321.5L1175.5 320.7L1176.0 320.0L1176.5 319.1L1177.0 318.3L1177.5 317.5L1178.0 316.7L1178.5 315.9L1179.0 315.2L1179.5 314.5L1180.0 313.8L1180.5 313.3L1181.0 312.8L1181.5 312.4L1182.0 312.2L1182.5 312.0L1183.0 312.1L1183.5 312.2L1184.0 312.5L1184.5 313.0L1185.0 313.7L1185.5 314.5L1186.0 315.4L1186.5 316.4L1187.0 317.5L1187.5 318.7L1188.0 319.9L1188.5 321.1L1189.0 322.3L1189.5 323.5L1190.0 324.7L1190.5 325.8L1191.0 326.9L1191.5 327.9L1192.0 328.8L1192.5 329.8L1193.0 330.6L1193.5 331.5L1194.0 332.3L1194.5 333.0L1195.0 333.7L1195.5 334.4L1196.0 335.1L1196.5 335.7L1197.0 336.3L1197.5 336.8L1198.0 337.4L1198.5 337.9L1199.0 338.4L1199.5 338.9L1200.0 339.3L1200.5 339.8L1201.0 340.2L1201.5 340.6L1202.0 341.0L1202.5 341.5L1203.0 341.9L1203.5 342.3L1204.0 342.7L1204.5 343.1L1205.0 343.5L1205.5 343.9L1206.0 344.3L1206.5 344.7L1207.0 345.2L1207.5 345.6L1208.0 346.1L1208.5 346.6L1209.0 347.1L1209.5 347.6L1210.0 348.2L1210.5 348.8L1211.0 349.4L1211.5 350.0L1212.0 350.7L1212.5 351.3L1213.0 352.0L1213.5 352.7L1214.0 353.4L1214.5 354.0L1215.0 354.6L1215.5 355.2L1216.0 355.8L1216.5 356.3L1217.0 356.7L1217.5 357.1L1218.0 357.4L1218.5 357.6L1219.0 357.8L1219.5 357.8L1220.0 357.8L1220.5 357.6L1221.0 357.4L1221.5 357.1L1222.0 356.7L1222.5 356.3L1223.0 355.9L1223.5 355.4L1224.0 354.8L1224.5 354.3L1225.0 353.7L1225.5 353.2L1226.0 352.6L1226.5 352.1L1227.0 351.5L1227.5 351.0L1228.0 350.6L1228.5 350.1L1229.0 349.7L1229.5 349.4L1230.0 349.0L1230.5 348.8L1231.0 348.6L1231.5 348.4L1232.0 348.3L1232.5 348.3L1233.0 348.4L1233.5 348.5L1234.0 348.7L1234.5 348.9L1235.0 349.2L1235.5 349.6L1236.0 350.0L1236.5 350.4L1237.0 350.9L1237.5 351.4L1238.0 351.9L1238.5 352.4L1239.0 352.9L1239.5 353.4L1240.0 353.9L1240.5 354.4L1241.0 354.9L1241.5 355.4L1242.0 355.8L1242.5 356.2L1243.0 356.5L1243.5 356.8L1244.0 357.0L1244.5 357.2L1245.0 357.3L1245.5 357.3L1246.0 357.3L1246.5 357.2L1247.0 357.0L1247.5 356.8L1248.0 356.6L1248.5 356.2L1249.0 355.9L1249.5 355.5L1250.0 355.1L1250.5 354.6L1251.0 354.1L1251.5 353.6L1252.0 353.1L1252.5 352.6L1253.0 352.0L1253.5 351.5L1254.0 351.0L1254.5 350.5L1255.0 350.0L1255.5 349.6L1256.0 349.2L1256.5 348.8L1257.0 348.5L1257.5 348.2L1258.0 348.0L1258.5 347.8L1259.0 347.7L1259.5 347.7L1260.0 347.8L1260.5 347.9L1261.0 348.1L1261.5 348.4L1262.0 348.8L1262.5 349.2L1263.0 349.6L1263.5 350.1L1264.0 350.6L1264.5 351.0L1265.0 351.5L1265.5 352.0L1266.0 352.4L1266.5 352.8L1267.0 353.2L1267.5 353.6L1268.0 353.9L1268.5 354.2L1269.0 354.5L1269.5 354.8L1270.0 355.1L1270.5 355.3L1271.0 355.6L1271.5 355.8L1272.0 356.0L1272.5 356.2L1273.0 356.4L1273.5 356.6L1274.0 356.7L1274.5 356.9L1275.0 357.0L1275.5 357.2L1276.0 357.3L1276.5 357.5L1277.0 357.6L1277.5 357.8L1278.0 357.9L1278.5 358.1L1279.0 358.2L1279.5 358.4L1280.0 358.5L1280.5 358.7L1281.0 358.9L1281.5 359.1L1282.0 359.3L1282.5 359.5L1283.0 359.7L1283.5 359.9L1284.0 360.2L1284.5 360.4L1285.0 360.7L1285.5 361.0L1286.0 361.4L1286.5 361.7L1287.0 362.1L1287.5 362.5L1288.0 362.8L1288.5 363.2L1289.0 363.6L1289.5 364.0L1290.0 364.3L1290.5 364.7L1291.0 365.0L1291.5 365.3L1292.0 365.6L1292.5 365.8L1293.0 366.0L1293.5 366.2L1294.0 366.3L1294.5 366.3L1295.0 366.3L1295.5 366.2L1296.0 366.0L1296.5 365.8L1297.0 365.5L1297.5 365.1L1298.0 364.7L1298.5 364.1L1299.0 363.5L1299.5 362.9L1300.0 362.2L1300.5 361.5L1301.0 360.7L1301.5 360.0L1302.0 359.3L1302.5 358.6L1303.0 357.9L1303.5 357.2L1304.0 356.6L1304.5 356.1L1305.0 355.6L1305.5 355.2L1306.0 354.8L1306.5 354.5L1307.0 354.3L1307.5 354.2L1308.0 354.1L1308.5 354.1L1309.0 354.2L1309.5 354.4L1310.0 354.7L1310.5 355.0L1311.0 355.4L1311.5 355.8L1312.0 356.3L1312.5 356.9L1313.0 357.5L1313.5 358.1L1314.0 358.8L1314.5 359.5L1315.0 360.3L1315.5 361.0L1316.0 361.7L1316.5 362.4L1317.0 363.1L1317.5 363.7L1318.0 364.3L1318.5 364.8L1319.0 365.2L1319.5 365.5L1320.0 365.8L1320.5 366.0L1321.0 366.1L1321.5 366.2L1322.0 366.2L1322.5 366.1L1323.0 366.0L1323.5 365.8L1324.0 365.6L1324.5 365.4L1325.0 365.1L1325.5 364.7L1326.0 364.3L1326.5 363.9L1327.0 363.5L1327.5 363.0L1328.0 362.5L1328.5 362.0L1329.0 361.4L1329.5 360.9L1330.0 360.3L1330.5 359.8L1331.0 359.2L1331.5 358.7L1332.0 358.2L1332.5 357.8L1333.0 357.4L1333.5 357.0L1334.0 356.7L1334.5 356.4L1335.0 356.2L1335.5 356.0L1336.0 355.9L1336.5 355.9L1337.0 355.8L1337.5 355.8L1338.0 355.9L1338.5 356.0L1339.0 356.0L1339.5 356.2L1340.0 356.3L1340.5 356.4L1341.0 356.6L1341.5 356.7L1342.0 356.9L1342.5 357.0L1343.0 357.2L1343.5 357.3L1344.0 357.4L1344.5 357.5L1345.0 357.6L1345.5 357.6L1346.0 357.6L1346.5 357.6L1347.0 357.6L1347.5 357.5L1348.0 357.4L1348.5 357.3L1349.0 357.1L1349.5 357.0L1350.0 356.8L1350.5 356.6L1351.0 356.5L1351.5 356.3L1352.0 356.1L1352.5 356.0L1353.0 355.8L1353.5 355.7L1354.0 355.6L1354.5 355.5L1355.0 355.4L1355.5 355.4L1356.0 355.4L1356.5 355.4L1357.0 355.4L1357.5 355.5L1358.0 355.6L1358.5 355.7L1359.0 355.9L1359.5 356.1L1360.0 356.3L1360.5 356.7L1361.0 357.0L1361.5 357.4L1362.0 357.9L1362.5 358.4L1363.0 358.9L1363.5 359.5L1364.0 360.2L1364.5 360.8L1365.0 361.5L1365.5 362.2L1366.0 362.9L1366.5 363.6L1367.0 364.2L1367.5 364.8L1368.0 365.4L1368.5 365.9L1369.0 366.4L1369.5 366.8L1370.0 367.1L1370.5 367.5L1371.0 367.7L1371.5 368.0L1372.0 368.2L1372.5 368.3L1373.0 368.4L1373.5 368.5L1374.0 368.6L1374.5 368.6L1375.0 368.6L1375.5 368.5L1376.0 368.4L1376.5 368.3L1377.0 368.2L1377.5 368.1L1378.0 367.9L1378.5 367.7L1379.0 367.5L1379.5 367.3L1380.0 367.1L1380.5 366.9L1381.0 366.6L1381.5 366.4L1382.0 366.2L1382.5 366.1L1383.0 365.9L1383.5 365.8L1384.0 365.7L1384.5 365.7L1385.0 365.7L1385.5 365.8L1386.0 365.9L1386.5 366.0L1387.0 366.2L1387.5 366.4L1388.0 366.6L1388.5 366.9L1389.0 367.1L1389.5 367.4L1390.0 367.7L1390.5 368.0L1391.0 368.3L1391.5 368.6L1392.0 368.9L1392.5 369.3L1393.0 369.6L1393.5 369.9L1394.0 370.1L1394.5 370.4L1395.0 370.6L1395.5 370.9L1396.0 371.1L1396.5 371.2L1397.0 371.4L1397.5 371.5L1398.0 371.5L1398.5 371.5L1399.0 371.5L1399.5 371.4L1400.0 371.3L1400.5 371.1L1401.0 370.9L1401.5 370.6L1402.0 370.2L1402.5 369.7L1403.0 369.2L1403.5 368.7L1404.0 368.1L1404.5 367.4L1405.0 366.8L1405.5 366.1L1406.0 365.5L1406.5 364.8L1407.0 364.2L1407.5 363.5L1408.0 363.0L1408.5 362.5L1409.0 362.0L1409.5 361.6L1410.0 361.3L1410.5 361.1L1411.0 361.0L1411.5 361.0L1412.0 361.1L1412.5 361.3L1413.0 361.7L1413.5 362.1L1414.0 362.6L1414.5 363.1L1415.0 363.8L1415.5 364.5L1416.0 365.3L1416.5 366.1L1417.0 367.0L1417.5 368.0L1418.0 369.0L1418.5 370.0L1419.0 371.0L1419.5 372.1L1420.0 373.2L1420.5 374.2L1421.0 375.3L1421.5 376.4L1422.0 377.4L1422.5 378.4L1423.0 379.4L1423.5 380.4L1424.0 381.3L1424.5 382.1L1425.0 382.9L1425.5 383.7L1426.0 384.3L1426.5 384.9L1427.0 385.4L1427.5 385.8L1428.0 386.1L1428.0 388.7L1427.5 388.7L1427.0 388.8L1426.5 389.1L1426.0 389.5L1425.5 390.0L1425.0 390.7L1424.5 391.4L1424.0 392.3L1423.5 393.2L1423.0 394.2L1422.5 395.3L1422.0 396.4L1421.5 397.6L1421.0 398.8L1420.5 400.0L1420.0 401.2L1419.5 402.4L1419.0 403.6L1418.5 404.8L1418.0 406.0L1417.5 407.1L1417.0 408.1L1416.5 409.1L1416.0 409.9L1415.5 410.7L1415.0 411.4L1414.5 412.0L1414.0 412.5L1413.5 412.9L1413.0 413.3L1412.5 413.5L1412.0 413.6L1411.5 413.7L1411.0 413.7L1410.5 413.7L1410.0 413.6L1409.5 413.4L1409.0 413.2L1408.5 413.0L1408.0 412.7L1407.5 412.4L1407.0 412.1L1406.5 411.7L1406.0 411.3L1405.5 411.0L1405.0 410.6L1404.5 410.2L1404.0 409.8L1403.5 409.5L1403.0 409.1L1402.5 408.8L1402.0 408.5L1401.5 408.3L1401.0 408.0L1400.5 407.9L1400.0 407.7L1399.5 407.6L1399.0 407.5L1398.5 407.5L1398.0 407.5L1397.5 407.5L1397.0 407.5L1396.5 407.6L1396.0 407.7L1395.5 407.8L1395.0 407.9L1394.5 408.0L1394.0 408.1L1393.5 408.3L1393.0 408.5L1392.5 408.6L1392.0 408.8L1391.5 409.0L1391.0 409.1L1390.5 409.3L1390.0 409.5L1389.5 409.6L1389.0 409.8L1388.5 410.0L1388.0 410.1L1387.5 410.2L1387.0 410.3L1386.5 410.4L1386.0 410.5L1385.5 410.5L1385.0 410.6L1384.5 410.6L1384.0 410.5L1383.5 410.5L1383.0 410.4L1382.5 410.3L1382.0 410.1L1381.5 410.0L1381.0 409.8L1380.5 409.6L1380.0 409.4L1379.5 409.2L1379.0 409.0L1378.5 408.7L1378.0 408.5L1377.5 408.3L1377.0 408.0L1376.5 407.8L1376.0 407.6L1375.5 407.4L1375.0 407.2L1374.5 407.1L1374.0 407.0L1373.5 406.9L1373.0 406.8L1372.5 406.7L1372.0 406.7L1371.5 406.8L1371.0 406.8L1370.5 406.9L1370.0 407.1L1369.5 407.3L1369.0 407.6L1368.5 407.9L1368.0 408.3L1367.5 408.7L1367.0 409.1L1366.5 409.5L1366.0 410.0L1365.5 410.4L1365.0 410.8L1364.5 411.2L1364.0 411.5L1363.5 411.7L1363.0 411.9L1362.5 412.0L1362.0 412.0L1361.5 412.0L1361.0 411.9L1360.5 411.7L1360.0 411.5L1359.5 411.3L1359.0 411.0L1358.5 410.7L1358.0 410.3L1357.5 409.9L1357.0 409.5L1356.5 409.1L1356.0 408.6L1355.5 408.2L1355.0 407.8L1354.5 407.4L1354.0 406.9L1353.5 406.5L1353.0 406.2L1352.5 405.8L1352.0 405.5L1351.5 405.2L1351.0 405.0L1350.5 404.8L1350.0 404.6L1349.5 404.4L1349.0 404.3L1348.5 404.2L1348.0 404.1L1347.5 404.0L1347.0 404.0L1346.5 404.0L1346.0 404.0L1345.5 404.0L1345.0 404.1L1344.5 404.2L1344.0 404.3L1343.5 404.4L1343.0 404.5L1342.5 404.7L1342.0 404.9L1341.5 405.1L1341.0 405.3L1340.5 405.5L1340.0 405.7L1339.5 406.0L1339.0 406.2L1338.5 406.5L1338.0 406.8L1337.5 407.1L1337.0 407.4L1336.5 407.7L1336.0 408.0L1335.5 408.3L1335.0 408.7L1334.5 409.0L1334.0 409.3L1333.5 409.7L1333.0 410.0L1332.5 410.4L1332.0 410.7L1331.5 411.1L1331.0 411.5L1330.5 411.8L1330.0 412.2L1329.5 412.5L1329.0 412.9L1328.5 413.3L1328.0 413.6L1327.5 414.0L1327.0 414.3L1326.5 414.7L1326.0 415.0L1325.5 415.3L1325.0 415.7L1324.5 416.0L1324.0 416.3L1323.5 416.6L1323.0 416.9L1322.5 417.2L1322.0 417.5L1321.5 417.8L1321.0 418.0L1320.5 418.3L1320.0 418.5L1319.5 418.7L1319.0 418.9L1318.5 419.1L1318.0 419.3L1317.5 419.5L1317.0 419.6L1316.5 419.8L1316.0 419.9L1315.5 420.0L1315.0 420.1L1314.5 420.1L1314.0 420.2L1313.5 420.2L1313.0 420.2L1312.5 420.2L1312.0 420.2L1311.5 420.1L1311.0 420.0L1310.5 419.9L1310.0 419.8L1309.5 419.7L1309.0 419.6L1308.5 419.4L1308.0 419.3L1307.5 419.2L1307.0 419.0L1306.5 418.9L1306.0 418.7L1305.5 418.6L1305.0 418.5L1304.5 418.4L1304.0 418.3L1303.5 418.2L1303.0 418.2L1302.5 418.1L1302.0 418.1L1301.5 418.1L1301.0 418.2L1300.5 418.3L1300.0 418.4L1299.5 418.6L1299.0 418.7L1298.5 419.0L1298.0 419.2L1297.5 419.4L1297.0 419.7L1296.5 420.0L1296.0 420.4L1295.5 420.7L1295.0 421.1L1294.5 421.4L1294.0 421.8L1293.5 422.2L1293.0 422.6L1292.5 423.0L1292.0 423.4L1291.5 423.8L1291.0 424.2L1290.5 424.6L1290.0 424.9L1289.5 425.3L1289.0 425.7L1288.5 426.0L1288.0 426.3L1287.5 426.6L1287.0 426.8L1286.5 427.0L1286.0 427.0L1285.5 427.0L1285.0 427.0L1284.5 426.8L1284.0 426.5L1283.5 426.1L1283.0 425.7L1282.5 425.2L1282.0 424.6L1281.5 424.0L1281.0 423.3L1280.5 422.6L1280.0 421.9L1279.5 421.1L1279.0 420.3L1278.5 419.5L1278.0 418.7L1277.5 417.9L1277.0 417.1L1276.5 416.3L1276.0 415.5L1275.5 414.8L1275.0 414.1L1274.5 413.4L1274.0 412.8L1273.5 412.2L1273.0 411.7L1272.5 411.3L1272.0 410.9L1271.5 410.6L1271.0 410.4L1270.5 410.3L1270.0 410.2L1269.5 410.3L1269.0 410.4L1268.5 410.6L1268.0 410.9L1267.5 411.2L1267.0 411.7L1266.5 412.1L1266.0 412.6L1265.5 413.2L1265.0 413.8L1264.5 414.4L1264.0 415.0L1263.5 415.6L1263.0 416.3L1262.5 416.9L1262.0 417.5L1261.5 418.1L1261.0 418.7L1260.5 419.3L1260.0 419.8L1259.5 420.3L1259.0 420.7L1258.5 421.0L1258.0 421.3L1257.5 421.5L1257.0 421.7L1256.5 421.8L1256.0 421.9L1255.5 421.9L1255.0 421.9L1254.5 421.8L1254.0 421.8L1253.5 421.7L1253.0 421.7L1252.5 421.7L1252.0 421.7L1251.5 421.7L1251.0 421.7L1250.5 421.9L1250.0 422.0L1249.5 422.3L1249.0 422.6L1248.5 422.9L1248.0 423.3L1247.5 423.8L1247.0 424.3L1246.5 424.8L1246.0 425.3L1245.5 425.9L1245.0 426.5L1244.5 427.1L1244.0 427.7L1243.5 428.3L1243.0 428.9L1242.5 429.5L1242.0 430.1L1241.5 430.7L1241.0 431.2L1240.5 431.8L1240.0 432.2L1239.5 432.7L1239.0 433.1L1238.5 433.4L1238.0 433.7L1237.5 433.9L1237.0 434.1L1236.5 434.2L1236.0 434.2L1235.5 434.2L1235.0 434.2L1234.5 434.1L1234.0 434.0L1233.5 433.8L1233.0 433.6L1232.5 433.4L1232.0 433.2L1231.5 432.9L1231.0 432.6L1230.5 432.3L1230.0 432.0L1229.5 431.7L1229.0 431.4L1228.5 431.1L1228.0 430.8L1227.5 430.5L1227.0 430.2L1226.5 429.9L1226.0 429.6L1225.5 429.4L1225.0 429.2L1224.5 429.0L1224.0 428.8L1223.5 428.7L1223.0 428.6L1222.5 428.5L1222.0 428.5L1221.5 428.6L1221.0 428.7L1220.5 428.8L1220.0 429.1L1219.5 429.3L1219.0 429.7L1218.5 430.1L1218.0 430.6L1217.5 431.1L1217.0 431.7L1216.5 432.4L1216.0 433.1L1215.5 433.8L1215.0 434.5L1214.5 435.2L1214.0 435.9L1213.5 436.6L1213.0 437.2L1212.5 437.7L1212.0 438.1L1211.5 438.5L1211.0 438.9L1210.5 439.1L1210.0 439.4L1209.5 439.5L1209.0 439.6L1208.5 439.7L1208.0 439.7L1207.5 439.7L1207.0 439.6L1206.5 439.4L1206.0 439.3L1205.5 439.1L1205.0 438.8L1204.5 438.5L1204.0 438.2L1203.5 437.9L1203.0 437.5L1202.5 437.1L1202.0 436.7L1201.5 436.2L1201.0 435.8L1200.5 435.3L1200.0 434.8L1199.5 434.3L1199.0 433.8L1198.5 433.3L1198.0 432.9L1197.5 432.4L1197.0 432.0L1196.5 431.6L1196.0 431.2L1195.5 430.8L1195.0 430.5L1194.5 430.2L1194.0 430.0L1193.5 429.7L1193.0 429.5L1192.5 429.3L1192.0 429.1L1191.5 429.0L1191.0 428.8L1190.5 428.7L1190.0 428.6L1189.5 428.5L1189.0 428.4L1188.5 428.3L1188.0 428.2L1187.5 428.1L1187.0 428.0L1186.5 427.9L1186.0 427.7L1185.5 427.6L1185.0 427.5L1184.5 427.3L1184.0 427.2L1183.5 427.0L1183.0 426.8L1182.5 426.5L1182.0 426.3L1181.5 426.0L1181.0 425.7L1180.5 425.4L1180.0 425.1L1179.5 424.8L1179.0 424.5L1178.5 424.3L1178.0 424.0L1177.5 423.8L1177.0 423.7L1176.5 423.6L1176.0 423.5L1175.5 423.6L1175.0 423.7L1174.5 423.9L1174.0 424.2L1173.5 424.6L1173.0 425.1L1172.5 425.7L1172.0 426.5L1171.5 427.4L1171.0 428.4L1170.5 429.6L1170.0 431.0L1169.5 432.5L1169.0 434.2L1168.5 436.1L1168.0 438.1L1167.5 440.2L1167.0 442.5L1166.5 444.8L1166.0 447.2L1165.5 449.6L1165.0 452.0L1164.5 454.3L1164.0 456.5L1163.5 458.7L1163.0 460.7L1162.5 462.6L1162.0 464.3L1161.5 465.8L1161.0 467.1L1160.5 468.2L1160.0 469.2L1159.5 470.1L1159.0 470.7L1158.5 471.3L1158.0 471.7L1157.5 472.0L1157.0 472.1L1156.5 472.2L1156.0 472.1L1155.5 472.0L1155.0 471.7L1154.5 471.4L1154.0 471.0L1153.5 470.5L1153.0 470.0L1152.5 469.4L1152.0 468.8L1151.5 468.2L1151.0 467.6L1150.5 467.0L1150.0 466.5L1149.5 465.9L1149.0 465.5L1148.5 465.0L1148.0 464.7L1147.5 464.4L1147.0 464.1L1146.5 463.9L1146.0 463.7L1145.5 463.6L1145.0 463.5L1144.5 463.5L1144.0 463.5L1143.5 463.5L1143.0 463.6L1142.5 463.7L1142.0 463.9L1141.5 464.1L1141.0 464.3L1140.5 464.6L1140.0 464.9L1139.5 465.2L1139.0 465.6L1138.5 466.0L1138.0 466.4L1137.5 466.8L1137.0 467.2L1136.5 467.6L1136.0 468.0L1135.5 468.4L1135.0 468.6L1134.5 468.9L1134.0 469.0L1133.5 469.1L1133.0 469.1L1132.5 469.0L1132.0 468.7L1131.5 468.4L1131.0 468.0L1130.5 467.6L1130.0 467.1L1129.5 466.6L1129.0 466.0L1128.5 465.5L1128.0 464.9L1127.5 464.3L1127.0 463.8L1126.5 463.3L1126.0 462.8L1125.5 462.4L1125.0 462.0L1124.5 461.8L1124.0 461.6L1123.5 461.5L1123.0 461.5L1122.5 461.6L1122.0 461.9L1121.5 462.2L1121.0 462.7L1120.5 463.4L1120.0 464.2L1119.5 465.1L1119.0 466.1L1118.5 467.3L1118.0 468.6L1117.5 470.0L1117.0 471.6L1116.5 473.3L1116.0 475.1L1115.5 477.1L1115.0 479.1L1114.5 481.3L1114.0 483.6L1113.5 486.1L1113.0 488.6L1112.5 491.3L1112.0 494.0L1111.5 496.8L1111.0 499.6L1110.5 502.2L1110.0 504.7L1109.5 506.9L1109.0 508.9L1108.5 510.6L1108.0 511.9L1107.5 512.9L1107.0 513.6L1106.5 514.0L1106.0 514.1L1105.5 514.0L1105.0 513.5L1104.5 512.9L1104.0 511.9L1103.5 510.7L1103.0 509.3L1102.5 507.7L1102.0 505.9L1101.5 504.0L1101.0 501.9L1100.5 499.6L1100.0 497.2L1099.5 494.7L1099.0 492.1L1098.5 489.4L1098.0 486.7L1097.5 484.0L1097.0 481.2L1096.5 478.4L1096.0 475.6L1095.5 472.9L1095.0 470.1L1094.5 467.5L1094.0 464.9L1093.5 462.4L1093.0 460.1L1092.5 457.8L1092.0 455.7L1091.5 453.8L1091.0 452.0L1090.5 450.4L1090.0 449.1L1089.5 447.9L1089.0 446.9L1088.5 446.0L1088.0 445.4L1087.5 444.9L1087.0 444.6L1086.5 444.5L1086.0 444.5L1085.5 444.8L1085.0 445.1L1084.5 445.7L1084.0 446.4L1083.5 447.2L1083.0 448.2L1082.5 449.4L1082.0 450.7L1081.5 452.2L1081.0 453.8L1080.5 455.5L1080.0 457.4L1079.5 459.4L1079.0 461.5L1078.5 463.8L1078.0 466.2L1077.5 468.7L1077.0 471.4L1076.5 474.1L1076.0 477.0L1075.5 479.9L1075.0 482.9L1074.5 486.0L1074.0 489.1L1073.5 492.3L1073.0 495.5L1072.5 498.8L1072.0 502.1L1071.5 505.4L1071.0 508.8L1070.5 512.3L1070.0 515.8L1069.5 519.3L1069.0 522.9L1068.5 526.6L1068.0 530.3L1067.5 534.1L1067.0 537.9L1066.5 541.9L1066.0 545.8L1065.5 549.9L1065.0 554.0L1064.5 558.1L1064.0 562.3L1063.5 566.5L1063.0 570.7L1062.5 574.9L1062.0 579.1L1061.5 583.2L1061.0 587.4L1060.5 591.4L1060.0 595.2L1059.5 598.5L1059.0 601.1L1058.5 602.9L1058.0 603.7L1057.5 603.1L1057.0 601.5L1056.5 598.8L1056.0 595.3L1055.5 591.1L1055.0 586.2L1054.5 580.9L1054.0 575.2L1053.5 569.4L1053.0 563.4L1052.5 557.6L1052.0 551.9L1051.5 546.3L1051.0 540.7L1050.5 534.9L1050.0 528.7L1049.5 522.0L1049.0 514.8L1048.5 506.8L1048.0 498.1L1047.5 488.8L1047.0 479.4L1046.5 470.3L1046.0 461.5L1045.5 453.3L1045.0 445.6L1044.5 438.5L1044.0 432.0L1043.5 426.3L1043.0 421.2L1042.5 416.7L1042.0 412.5L1041.5 408.6L1041.0 404.8L1040.5 400.9L1040.0 397.1L1039.5 393.4L1039.0 390.0L1038.5 386.9L1038.0 384.2L1037.5 382.0L1037.0 380.4L1036.5 379.6L1036.0 379.5L1035.5 380.2L1035.0 381.5L1034.5 383.3L1034.0 385.6L1033.5 388.1L1033.0 390.7L1032.5 393.4L1032.0 396.0L1031.5 398.7L1031.0 401.6L1030.5 404.9L1030.0 408.7L1029.5 413.2L1029.0 418.3L1028.5 423.7L1028.0 429.5L1027.5 435.4L1027.0 441.4L1026.5 447.6L1026.0 453.8L1025.5 460.0L1025.0 466.3L1024.5 472.7L1024.0 479.0L1023.5 485.3L1023.0 491.6L1022.5 497.8L1022.0 503.9L1021.5 509.9L1021.0 515.8L1020.5 521.5L1020.0 527.1L1019.5 532.5L1019.0 537.8L1018.5 543.1L1018.0 548.4L1017.5 553.7L1017.0 559.1L1016.5 564.5L1016.0 570.1L1015.5 575.8L1015.0 581.6L1014.5 587.5L1014.0 593.3L1013.5 599.0L1013.0 604.6L1012.5 610.0L1012.0 615.1L1011.5 619.9L1011.0 624.5L1010.5 628.8L1010.0 632.9L1009.5 636.7L1009.0 640.3L1008.5 643.7L1008.0 646.9L1007.5 649.9L1007.0 652.6L1006.5 655.2L1006.0 657.7L1005.5 660.0L1005.0 662.2L1004.5 664.4L1004.0 666.5L1003.5 668.5L1003.0 670.2L1002.5 671.4L1002.0 671.9L1001.5 671.3L1001.0 669.5L1000.5 666.8L1000.0 663.3L999.5 659.5L999.0 655.5L998.5 651.5L998.0 647.7L997.5 644.0L997.0 640.3L996.5 636.5L996.0 632.8L995.5 628.9L995.0 624.9L994.5 620.7L994.0 616.3L993.5 611.6L993.0 606.8L992.5 601.6L992.0 596.0L991.5 590.2L991.0 583.9L990.5 577.2L990.0 570.1L989.5 562.5L989.0 554.5L988.5 546.2L988.0 537.6L987.5 528.7L987.0 519.8L986.5 510.8L986.0 501.9L985.5 493.2L985.0 485.0L984.5 477.3L984.0 470.3L983.5 464.2L983.0 458.8L982.5 453.8L982.0 449.1L981.5 444.5L981.0 439.7L980.5 434.6L980.0 429.2L979.5 423.7L979.0 418.2L978.5 412.8L978.0 407.5L977.5 402.6L977.0 398.1L976.5 393.9L976.0 390.1L975.5 386.6L975.0 383.4L974.5 380.4L974.0 377.6L973.5 374.9L973.0 372.4L972.5 370.0L972.0 367.8L971.5 365.7L971.0 363.7L970.5 361.9L970.0 360.2L969.5 358.6L969.0 357.2L968.5 355.9L968.0 354.7L967.5 353.7L967.0 352.8L966.5 352.0L966.0 351.3L965.5 350.8L965.0 350.3L964.5 350.0L964.0 349.9L963.5 349.8L963.0 349.8L962.5 350.0L962.0 350.4L961.5 350.9L961.0 351.6L960.5 352.4L960.0 353.5L959.5 354.7L959.0 356.2L958.5 357.8L958.0 359.7L957.5 361.6L957.0 363.8L956.5 366.1L956.0 368.5L955.5 371.0L955.0 373.6L954.5 376.4L954.0 379.2L953.5 382.1L953.0 385.1L952.5 388.2L952.0 391.3L951.5 394.4L951.0 397.5L950.5 400.7L950.0 403.9L949.5 407.1L949.0 410.2L948.5 413.4L948.0 416.5L947.5 419.6L947.0 422.6L946.5 425.7L946.0 428.7L945.5 431.7L945.0 434.7L944.5 437.7L944.0 440.7L943.5 443.7L943.0 446.7L942.5 449.7L942.0 452.7L941.5 455.6L941.0 458.6L940.5 461.6L940.0 464.6L939.5 467.6L939.0 470.6L938.5 473.7L938.0 476.7L937.5 479.8L937.0 482.8L936.5 486.0L936.0 489.1L935.5 492.2L935.0 495.4L934.5 498.6L934.0 501.9L933.5 505.2L933.0 508.6L932.5 512.2L932.0 515.8L931.5 519.7L931.0 523.7L930.5 527.8L930.0 532.3L929.5 536.9L929.0 541.7L928.5 546.5L928.0 551.4L927.5 556.2L927.0 560.9L926.5 565.4L926.0 569.6L925.5 573.4L925.0 576.9L924.5 580.1L924.0 583.0L923.5 585.8L923.0 588.4L922.5 590.8L922.0 593.1L921.5 595.4L921.0 597.5L920.5 599.5L920.0 601.5L919.5 603.3L919.0 605.1L918.5 606.7L918.0 608.3L917.5 609.7L917.0 611.1L916.5 612.3L916.0 613.4L915.5 614.5L915.0 615.4L914.5 616.2L914.0 616.9L913.5 617.5L913.0 618.0L912.5 618.3L912.0 618.6L911.5 618.8L911.0 618.8L910.5 618.7L910.0 618.5L909.5 618.2L909.0 617.8L908.5 617.3L908.0 616.6L907.5 615.8L907.0 614.9L906.5 613.9L906.0 612.8L905.5 611.5L905.0 610.1L904.5 608.6L904.0 606.9L903.5 605.1L903.0 603.2L902.5 601.1L902.0 598.8L901.5 596.4L901.0 593.9L900.5 591.1L900.0 588.2L899.5 585.1L899.0 581.8L898.5 578.4L898.0 574.9L897.5 571.2L897.0 567.3L896.5 563.4L896.0 559.4L895.5 555.3L895.0 551.2L894.5 546.9L894.0 542.7L893.5 538.4L893.0 534.0L892.5 529.7L892.0 525.4L891.5 521.1L891.0 516.8L890.5 512.5L890.0 508.3L889.5 504.2L889.0 500.1L888.5 496.1L888.0 492.1L887.5 488.1L887.0 484.1L886.5 480.2L886.0 476.2L885.5 472.3L885.0 468.3L884.5 464.3L884.0 460.3L883.5 456.3L883.0 452.3L882.5 448.4L882.0 444.4L881.5 440.5L881.0 436.6L880.5 432.8L880.0 429.0L879.5 425.3L879.0 421.8L878.5 418.3L878.0 414.9L877.5 411.6L877.0 408.5L876.5 405.5L876.0 402.6L875.5 399.9L875.0 397.3L874.5 394.9L874.0 392.6L873.5 390.3L873.0 388.1L872.5 386.0L872.0 383.9L871.5 381.9L871.0 379.8L870.5 377.7L870.0 375.7L869.5 373.6L869.0 371.5L868.5 369.4L868.0 367.3L867.5 365.2L867.0 363.2L866.5 361.1L866.0 359.1L865.5 357.1L865.0 355.1L864.5 353.2L864.0 351.3L863.5 349.5L863.0 347.7L862.5 345.9L862.0 344.2L861.5 342.6L861.0 341.0L860.5 339.5L860.0 338.1L859.5 336.7L859.0 335.4L858.5 334.2L858.0 333.1L857.5 332.0L857.0 331.1L856.5 330.2L856.0 329.4L855.5 328.7L855.0 328.1L854.5 327.6L854.0 327.1L853.5 326.8L853.0 326.5L852.5 326.3L852.0 326.2L851.5 326.2L851.0 326.2L850.5 326.4L850.0 326.6L849.5 326.9L849.0 327.3L848.5 327.9L848.0 328.5L847.5 329.3L847.0 330.3L846.5 331.5L846.0 332.8L845.5 334.3L845.0 336.1L844.5 338.1L844.0 340.3L843.5 342.8L843.0 345.6L842.5 348.5L842.0 351.6L841.5 354.8L841.0 358.1L840.5 361.5L840.0 364.9L839.5 368.2L839.0 371.6L838.5 374.9L838.0 378.1L837.5 381.3L837.0 384.3L836.5 387.2L836.0 390.0L835.5 392.7L835.0 395.2L834.5 397.6L834.0 399.9L833.5 402.2L833.0 404.4L832.5 406.5L832.0 408.7L831.5 410.8L831.0 413.0L830.5 415.2L830.0 417.5L829.5 419.9L829.0 422.3L828.5 424.8L828.0 427.3L827.5 429.8L827.0 432.4L826.5 435.0L826.0 437.6L825.5 440.1L825.0 442.6L824.5 445.1L824.0 447.5L823.5 449.8L823.0 452.1L822.5 454.3L822.0 456.5L821.5 458.6L821.0 460.7L820.5 462.8L820.0 464.8L819.5 466.8L819.0 468.9L818.5 470.9L818.0 472.9L817.5 475.0L817.0 477.0L816.5 479.1L816.0 481.3L815.5 483.4L815.0 485.5L814.5 487.7L814.0 489.8L813.5 492.0L813.0 494.2L812.5 496.3L812.0 498.5L811.5 500.6L811.0 502.8L810.5 504.9L810.0 507.0L809.5 509.1L809.0 511.1L808.5 513.1L808.0 515.1L807.5 517.1L807.0 519.0L806.5 520.9L806.0 522.7L805.5 524.5L805.0 526.3L804.5 528.0L804.0 529.6L803.5 531.2L803.0 532.7L802.5 534.2L802.0 535.6L801.5 537.0L801.0 538.2L800.5 539.5L800.0 540.7L799.5 541.8L799.0 542.9L798.5 543.9L798.0 544.8L797.5 545.7L797.0 546.6L796.5 547.4L796.0 548.1L795.5 548.8L795.0 549.4L794.5 550.0L794.0 550.5L793.5 551.0L793.0 551.4L792.5 551.8L792.0 552.1L791.5 552.3L791.0 552.5L790.5 552.7L790.0 552.8L789.5 552.8L789.0 552.9L788.5 552.8L788.0 552.7L787.5 552.6L787.0 552.4L786.5 552.1L786.0 551.8L785.5 551.5L785.0 551.1L784.5 550.6L784.0 550.2L783.5 549.6L783.0 549.0L782.5 548.4L782.0 547.7L781.5 547.0L781.0 546.2L780.5 545.4L780.0 544.6L779.5 543.6L779.0 542.7L778.5 541.7L778.0 540.7L777.5 539.6L777.0 538.5L776.5 537.3L776.0 536.1L775.5 534.9L775.0 533.6L774.5 532.3L774.0 530.9L773.5 529.5L773.0 528.1L772.5 526.7L772.0 525.2L771.5 523.6L771.0 522.1L770.5 520.5L770.0 518.9L769.5 517.2L769.0 515.5L768.5 513.8L768.0 512.1L767.5 510.3L767.0 508.5L766.5 506.7L766.0 504.8L765.5 503.0L765.0 501.0L764.5 499.1L764.0 497.1L763.5 495.1L763.0 493.1L762.5 491.0L762.0 488.9L761.5 486.8L761.0 484.6L760.5 482.4L760.0 480.2L759.5 477.9L759.0 475.6L758.5 473.3L758.0 471.0L757.5 468.6L757.0 466.2L756.5 463.7L756.0 461.3L755.5 458.7L755.0 456.2L754.5 453.7L754.0 451.1L753.5 448.5L753.0 445.9L752.5 443.4L752.0 440.8L751.5 438.3L751.0 435.7L750.5 433.2L750.0 430.8L749.5 428.4L749.0 426.0L748.5 423.7L748.0 421.4L747.5 419.1L747.0 416.9L746.5 414.8L746.0 412.7L745.5 410.6L745.0 408.5L744.5 406.6L744.0 404.6L743.5 402.7L743.0 400.8L742.5 399.0L742.0 397.2L741.5 395.5L741.0 393.8L740.5 392.1L740.0 390.5L739.5 388.9L739.0 387.4L738.5 385.9L738.0 384.4L737.5 383.0L737.0 381.6L736.5 380.3L736.0 379.0L735.5 377.7L735.0 376.5L734.5 375.3L734.0 374.1L733.5 373.0L733.0 371.9L732.5 370.8L732.0 369.7L731.5 368.6L731.0 367.5L730.5 366.5L730.0 365.4L729.5 364.4L729.0 363.4L728.5 362.4L728.0 361.4L727.5 360.4L727.0 359.4L726.5 358.5L726.0 357.6L725.5 356.7L725.0 355.8L724.5 354.9L724.0 354.1L723.5 353.3L723.0 352.5L722.5 351.8L722.0 351.1L721.5 350.5L721.0 349.9L720.5 349.3L720.0 348.8L719.5 348.3L719.0 347.9L718.5 347.5L718.0 347.2L717.5 346.9L717.0 346.7L716.5 346.6L716.0 346.5L715.5 346.5L715.0 346.5L714.5 346.6L714.0 346.8L713.5 347.0L713.0 347.3L712.5 347.6L712.0 348.0L711.5 348.5L711.0 349.0L710.5 349.5L710.0 350.1L709.5 350.7L709.0 351.3L708.5 352.0L708.0 352.7L707.5 353.4L707.0 354.1L706.5 354.9L706.0 355.6L705.5 356.4L705.0 357.2L704.5 358.0L704.0 358.8L703.5 359.6L703.0 360.4L702.5 361.2L702.0 362.1L701.5 362.9L701.0 363.8L700.5 364.7L700.0 365.5L699.5 366.5L699.0 367.4L698.5 368.3L698.0 369.3L697.5 370.3L697.0 371.3L696.5 372.4L696.0 373.5L695.5 374.6L695.0 375.7L694.5 376.9L694.0 378.1L693.5 379.3L693.0 380.6L692.5 381.9L692.0 383.2L691.5 384.6L691.0 386.0L690.5 387.5L690.0 389.0L689.5 390.5L689.0 392.0L688.5 393.6L688.0 395.2L687.5 396.8L687.0 398.4L686.5 400.0L686.0 401.7L685.5 403.3L685.0 405.0L684.5 406.7L684.0 408.4L683.5 410.1L683.0 411.8L682.5 413.5L682.0 415.2L681.5 416.9L681.0 418.6L680.5 420.2L680.0 421.9L679.5 423.6L679.0 425.2L678.5 426.9L678.0 428.5L677.5 430.1L677.0 431.6L676.5 433.2L676.0 434.8L675.5 436.3L675.0 437.9L674.5 439.4L674.0 441.0L673.5 442.6L673.0 444.2L672.5 445.9L672.0 447.6L671.5 449.4L671.0 451.2L670.5 453.0L670.0 455.0L669.5 457.0L669.0 459.0L668.5 461.1L668.0 463.3L667.5 465.4L667.0 467.6L666.5 469.8L666.0 471.9L665.5 474.0L665.0 476.1L664.5 478.1L664.0 480.0L663.5 481.8L663.0 483.6L662.5 485.3L662.0 487.0L661.5 488.6L661.0 490.3L660.5 491.9L660.0 493.5L659.5 495.2L659.0 496.9L658.5 498.7L658.0 500.6L657.5 502.5L657.0 504.6L656.5 506.7L656.0 508.9L655.5 511.0L655.0 513.1L654.5 515.1L654.0 516.9L653.5 518.6L653.0 520.1L652.5 521.5L652.0 522.7L651.5 523.8L651.0 524.8L650.5 525.6L650.0 526.4L649.5 527.0L649.0 527.6L648.5 528.1L648.0 528.5L647.5 528.9L647.0 529.2L646.5 529.5L646.0 529.7L645.5 529.9L645.0 530.2L644.5 530.4L644.0 530.6L643.5 530.8L643.0 531.0L642.5 531.2L642.0 531.4L641.5 531.6L641.0 531.8L640.5 532.0L640.0 532.2L639.5 532.4L639.0 532.5L638.5 532.7L638.0 532.8L637.5 533.0L637.0 533.1L636.5 533.2L636.0 533.3L635.5 533.4L635.0 533.5L634.5 533.6L634.0 533.6L633.5 533.7L633.0 533.7L632.5 533.7L632.0 533.7L631.5 533.7L631.0 533.6L630.5 533.5L630.0 533.4L629.5 533.3L629.0 533.2L628.5 533.1L628.0 532.9L627.5 532.7L627.0 532.5L626.5 532.2L626.0 531.9L625.5 531.6L625.0 531.3L624.5 531.0L624.0 530.6L623.5 530.2L623.0 529.7L622.5 529.3L622.0 528.8L621.5 528.2L621.0 527.7L620.5 527.1L620.0 526.5L619.5 525.8L619.0 525.1L618.5 524.4L618.0 523.6L617.5 522.8L617.0 522.0L616.5 521.1L616.0 520.2L615.5 519.2L615.0 518.2L614.5 517.2L614.0 516.1L613.5 515.0L613.0 513.9L612.5 512.7L612.0 511.4L611.5 510.1L611.0 508.8L610.5 507.5L610.0 506.1L609.5 504.7L609.0 503.3L608.5 501.8L608.0 500.3L607.5 498.8L607.0 497.2L606.5 495.6L606.0 494.0L605.5 492.4L605.0 490.8L604.5 489.1L604.0 487.4L603.5 485.7L603.0 484.0L602.5 482.2L602.0 480.5L601.5 478.7L601.0 476.9L600.5 475.1L600.0 473.3L599.5 471.5L599.0 469.7L598.5 467.8L598.0 466.0L597.5 464.2L597.0 462.3L596.5 460.5L596.0 458.6L595.5 456.8L595.0 454.9L594.5 453.1L594.0 451.3L593.5 449.4L593.0 447.6L592.5 445.8L592.0 443.9L591.5 442.1L591.0 440.3L590.5 438.5L590.0 436.7L589.5 434.9L589.0 433.1L588.5 431.3L588.0 429.6L587.5 427.8L587.0 426.0L586.5 424.3L586.0 422.6L585.5 420.8L585.0 419.1L584.5 417.4L584.0 415.7L583.5 414.0L583.0 412.3L582.5 410.7L582.0 409.0L581.5 407.4L581.0 405.7L580.5 404.1L580.0 402.5L579.5 400.9L579.0 399.4L578.5 397.8L578.0 396.3L577.5 394.7L577.0 393.2L576.5 391.7L576.0 390.2L575.5 388.8L575.0 387.3L574.5 385.9L574.0 384.5L573.5 383.1L573.0 381.7L572.5 380.4L572.0 379.1L571.5 377.8L571.0 376.5L570.5 375.2L570.0 373.9L569.5 372.7L569.0 371.5L568.5 370.3L568.0 369.2L567.5 368.0L567.0 366.9L566.5 365.8L566.0 364.8L565.5 363.7L565.0 362.7L564.5 361.7L564.0 360.8L563.5 359.8L563.0 358.9L562.5 358.1L562.0 357.2L561.5 356.4L561.0 355.6L560.5 354.8L560.0 354.0L559.5 353.3L559.0 352.6L558.5 351.9L558.0 351.3L557.5 350.7L557.0 350.1L556.5 349.5L556.0 349.0L555.5 348.5L555.0 348.0L554.5 347.5L554.0 347.1L553.5 346.7L553.0 346.4L552.5 346.0L552.0 345.7L551.5 345.4L551.0 345.2L550.5 344.9L550.0 344.7L549.5 344.6L549.0 344.4L548.5 344.3L548.0 344.2L547.5 344.2L547.0 344.2L546.5 344.2L546.0 344.2L545.5 344.3L545.0 344.4L544.5 344.5L544.0 344.7L543.5 344.9L543.0 345.1L542.5 345.3L542.0 345.6L541.5 345.9L541.0 346.2L540.5 346.6L540.0 347.0L539.5 347.5L539.0 347.9L538.5 348.4L538.0 348.9L537.5 349.5L537.0 350.1L536.5 350.7L536.0 351.4L535.5 352.1L535.0 352.8L534.5 353.5L534.0 354.3L533.5 355.1L533.0 355.9L532.5 356.8L532.0 357.7L531.5 358.6L531.0 359.5L530.5 360.4L530.0 361.3L529.5 362.3L529.0 363.2L528.5 364.1L528.0 365.1L527.5 366.0L527.0 367.0L526.5 367.9L526.0 368.8L525.5 369.8L525.0 370.6L524.5 371.5L524.0 372.4L523.5 373.2L523.0 374.1L522.5 374.9L522.0 375.7L521.5 376.5L521.0 377.3L520.5 378.1L520.0 378.9L519.5 379.7L519.0 380.5L518.5 381.3L518.0 382.0L517.5 382.8L517.0 383.6L516.5 384.4L516.0 385.2L515.5 385.9L515.0 386.7L514.5 387.5L514.0 388.4L513.5 389.2L513.0 390.0L512.5 390.9L512.0 391.7L511.5 392.6L511.0 393.5L510.5 394.4L510.0 395.3L509.5 396.3L509.0 397.2L508.5 398.2L508.0 399.2L507.5 400.2L507.0 401.3L506.5 402.3L506.0 403.4L505.5 404.5L505.0 405.6L504.5 406.7L504.0 407.8L503.5 409.0L503.0 410.1L502.5 411.3L502.0 412.5L501.5 413.7L501.0 414.9L500.5 416.1L500.0 417.4L499.5 418.6L499.0 419.9L498.5 421.1L498.0 422.4L497.5 423.7L497.0 425.0L496.5 426.3L496.0 427.6L495.5 428.9L495.0 430.2L494.5 431.6L494.0 432.9L493.5 434.2L493.0 435.6L492.5 436.9L492.0 438.3L491.5 439.6L491.0 441.0L490.5 442.3L490.0 443.7L489.5 445.1L489.0 446.4L488.5 447.8L488.0 449.2L487.5 450.5L487.0 451.9L486.5 453.3L486.0 454.6L485.5 456.0L485.0 457.4L484.5 458.7L484.0 460.1L483.5 461.4L483.0 462.8L482.5 464.1L482.0 465.4L481.5 466.8L481.0 468.1L480.5 469.4L480.0 470.7L479.5 472.0L479.0 473.3L478.5 474.6L478.0 475.9L477.5 477.2L477.0 478.4L476.5 479.7L476.0 480.9L475.5 482.1L475.0 483.4L474.5 484.6L474.0 485.8L473.5 486.9L473.0 488.1L472.5 489.2L472.0 490.4L471.5 491.5L471.0 492.6L470.5 493.7L470.0 494.7L469.5 495.8L469.0 496.8L468.5 497.8L468.0 498.8L467.5 499.8L467.0 500.8L466.5 501.7L466.0 502.6L465.5 503.5L465.0 504.3L464.5 505.2L464.0 506.0L463.5 506.8L463.0 507.5L462.5 508.3L462.0 509.0L461.5 509.7L461.0 510.3L460.5 510.9L460.0 511.5L459.5 512.1L459.0 512.6L458.5 513.1L458.0 513.6L457.5 514.1L457.0 514.5L456.5 514.9L456.0 515.2L455.5 515.5L455.0 515.8L454.5 516.1L454.0 516.3L453.5 516.5L453.0 516.7L452.5 516.8L452.0 516.9L451.5 517.0L451.0 517.0L450.5 517.1L450.0 517.1L449.5 517.1L449.0 517.0L448.5 516.9L448.0 516.8L447.5 516.7L447.0 516.6L446.5 516.4L446.0 516.2L445.5 516.0L445.0 515.8L444.5 515.5L444.0 515.2L443.5 515.0L443.0 514.6L442.5 514.3L442.0 513.9L441.5 513.6L441.0 513.2L440.5 512.8L440.0 512.3L439.5 511.9L439.0 511.4L438.5 511.0L438.0 510.5L437.5 510.0L437.0 509.4L436.5 508.9L436.0 508.3L435.5 507.8L435.0 507.2L434.5 506.6L434.0 506.0L433.5 505.4L433.0 504.8L432.5 504.1L432.0 503.5L431.5 502.8L431.0 502.1L430.5 501.4L430.0 500.7L429.5 500.0L429.0 499.3L428.5 498.6L428.0 497.8L427.5 497.1L427.0 496.3L426.5 495.5L426.0 494.7L425.5 493.9L425.0 493.1L424.5 492.3L424.0 491.4L423.5 490.6L423.0 489.7L422.5 488.9L422.0 488.0L421.5 487.1L421.0 486.2L420.5 485.3L420.0 484.4L419.5 483.4L419.0 482.5L418.5 481.5L418.0 480.6L417.5 479.6L417.0 478.6L416.5 477.6L416.0 476.6L415.5 475.6L415.0 474.6L414.5 473.5L414.0 472.5L413.5 471.4L413.0 470.4L412.5 469.3L412.0 468.2L411.5 467.1L411.0 466.0L410.5 464.9L410.0 463.8L409.5 462.7L409.0 461.6L408.5 460.4L408.0 459.3L407.5 458.1L407.0 456.9L406.5 455.8L406.0 454.6L405.5 453.4L405.0 452.2L404.5 451.0L404.0 449.7L403.5 448.5L403.0 447.3L402.5 446.0L402.0 444.8L401.5 443.5L401.0 442.2L400.5 441.0L400.0 439.7L399.5 438.4L399.0 437.1L398.5 435.8L398.0 434.5L397.5 433.2L397.0 431.9L396.5 430.5L396.0 429.2L395.5 427.9L395.0 426.6L394.5 425.3L394.0 423.9L393.5 422.6L393.0 421.3L392.5 420.0L392.0 418.7L391.5 417.3L391.0 416.0L390.5 414.7L390.0 413.5L389.5 412.2L389.0 410.9L388.5 409.6L388.0 408.4L387.5 407.1L387.0 405.9L386.5 404.7L386.0 403.5L385.5 402.3L385.0 401.1L384.5 399.9L384.0 398.8L383.5 397.6L383.0 396.5L382.5 395.4L382.0 394.3L381.5 393.3L381.0 392.2L380.5 391.2L380.0 390.2L379.5 389.2L379.0 388.3L378.5 387.3L378.0 386.4L377.5 385.6L377.0 384.7L376.5 383.9L376.0 383.1L375.5 382.3L375.0 381.6L374.5 380.9L374.0 380.2L373.5 379.5L373.0 378.9L372.5 378.3L372.0 377.7L371.5 377.2L371.0 376.6L370.5 376.1L370.0 375.6L369.5 375.2L369.0 374.7L368.5 374.3L368.0 373.9L367.5 373.5L367.0 373.1L366.5 372.8L366.0 372.4L365.5 372.1L365.0 371.8L364.5 371.4L364.0 371.1L363.5 370.9L363.0 370.6L362.5 370.3L362.0 370.0L361.5 369.8L361.0 369.5L360.5 369.3L360.0 369.0L359.5 368.8L359.0 368.5L358.5 368.3L358.0 368.0L357.5 367.8L357.0 367.6L356.5 367.3L356.0 367.1L355.5 366.9L355.0 366.7L354.5 366.5L354.0 366.3L353.5 366.1L353.0 365.9L352.5 365.8L352.0 365.6L351.5 365.5L351.0 365.4L350.5 365.2L350.0 365.1L349.5 365.0L349.0 365.0L348.5 364.9L348.0 364.9L347.5 364.8L347.0 364.8L346.5 364.8L346.0 364.8L345.5 364.9L345.0 364.9L344.5 365.0L344.0 365.1L343.5 365.2L343.0 365.3L342.5 365.5L342.0 365.7L341.5 365.9L341.0 366.1L340.5 366.3L340.0 366.6L339.5 366.9L339.0 367.2L338.5 367.5L338.0 367.8L337.5 368.2L337.0 368.5L336.5 368.9L336.0 369.3L335.5 369.7L335.0 370.1L334.5 370.6L334.0 371.0L333.5 371.5L333.0 372.0L332.5 372.4L332.0 372.9L331.5 373.4L331.0 374.0L330.5 374.5L330.0 375.0L329.5 375.6L329.0 376.1L328.5 376.6L328.0 377.2L327.5 377.8L327.0 378.3L326.5 378.9L326.0 379.5L325.5 380.1L325.0 380.6L324.5 381.2L324.0 381.8L323.5 382.4L323.0 383.0L322.5 383.5L322.0 384.1L321.5 384.7L321.0 385.3L320.5 385.9L320.0 386.5L319.5 387.1L319.0 387.7L318.5 388.3L318.0 388.9L317.5 389.6L317.0 390.3L316.5 391.0L316.0 391.7L315.5 392.5L315.0 393.3L314.5 394.1L314.0 395.0L313.5 395.9L313.0 396.8L312.5 397.8L312.0 398.9L311.5 400.0L311.0 401.1L310.5 402.3L310.0 403.5L309.5 404.7L309.0 406.0L308.5 407.3L308.0 408.5L307.5 409.9L307.0 411.2L306.5 412.5L306.0 413.8L305.5 415.2L305.0 416.5L304.5 417.8L304.0 419.1L303.5 420.4L303.0 421.6L302.5 422.9L302.0 424.1L301.5 425.3L301.0 426.4L300.5 427.5L300.0 428.7L299.5 429.8L299.0 430.8L298.5 431.9L298.0 432.9L297.5 434.0L297.0 435.0L296.5 436.0L296.0 437.1L295.5 438.1L295.0 439.1L294.5 440.1L294.0 441.1L293.5 442.1L293.0 443.2L292.5 444.2L292.0 445.2L291.5 446.3L291.0 447.4L290.5 448.4L290.0 449.5L289.5 450.6L289.0 451.7L288.5 452.8L288.0 453.9L287.5 455.0L287.0 456.1L286.5 457.2L286.0 458.3L285.5 459.4L285.0 460.5L284.5 461.5L284.0 462.6L283.5 463.7L283.0 464.8L282.5 465.9L282.0 466.9L281.5 468.0L281.0 469.1L280.5 470.1L280.0 471.1L279.5 472.1L279.0 473.1L278.5 474.1L278.0 475.1L277.5 476.1L277.0 477.0L276.5 478.0L276.0 478.9L275.5 479.8L275.0 480.6L274.5 481.5L274.0 482.3L273.5 483.1L273.0 483.9L272.5 484.7L272.0 485.4L271.5 486.2L271.0 486.8L270.5 487.5L270.0 488.2L269.5 488.8L269.0 489.4L268.5 490.0L268.0 490.5L267.5 491.0L267.0 491.5L266.5 492.0L266.0 492.5L265.5 492.9L265.0 493.3L264.5 493.7L264.0 494.1L263.5 494.5L263.0 494.8L262.5 495.1L262.0 495.4L261.5 495.7L261.0 495.9L260.5 496.2L260.0 496.4L259.5 496.6L259.0 496.7L258.5 496.9L258.0 497.0L257.5 497.1L257.0 497.2L256.5 497.3L256.0 497.4L255.5 497.4L255.0 497.4L254.5 497.4L254.0 497.4L253.5 497.4L253.0 497.4L252.5 497.3L252.0 497.2L251.5 497.1L251.0 497.0L250.5 496.9L250.0 496.7L249.5 496.6L249.0 496.4L248.5 496.2L248.0 496.0L247.5 495.8L247.0 495.5L246.5 495.3L246.0 495.0L245.5 494.7L245.0 494.4L244.5 494.1L244.0 493.8L243.5 493.4L243.0 493.1L242.5 492.7L242.0 492.4L241.5 492.0L241.0 491.6L240.5 491.1L240.0 490.7L239.5 490.3L239.0 489.8L238.5 489.3L238.0 488.9L237.5 488.4L237.0 487.9L236.5 487.3L236.0 486.8L235.5 486.3L235.0 485.7L234.5 485.2L234.0 484.6L233.5 484.0L233.0 483.4L232.5 482.8L232.0 482.2L231.5 481.5L231.0 480.9L230.5 480.3L230.0 479.6L229.5 478.9L229.0 478.2L228.5 477.5L228.0 476.8L227.5 476.1L227.0 475.4L226.5 474.7L226.0 473.9L225.5 473.2L225.0 472.4L224.5 471.6L224.0 470.9L223.5 470.1L223.0 469.3L222.5 468.5L222.0 467.6L221.5 466.8L221.0 466.0L220.5 465.2L220.0 464.3L219.5 463.4L219.0 462.6L218.5 461.7L218.0 460.8L217.5 459.9L217.0 459.0L216.5 458.1L216.0 457.2L215.5 456.3L215.0 455.4L214.5 454.5L214.0 453.5L213.5 452.6L213.0 451.6L212.5 450.7L212.0 449.7L211.5 448.7L211.0 447.8L210.5 446.8L210.0 445.8L209.5 444.8L209.0 443.8L208.5 442.8L208.0 441.8L207.5 440.8L207.0 439.7L206.5 438.7L206.0 437.7L205.5 436.7L205.0 435.6L204.5 434.6L204.0 433.5L203.5 432.5L203.0 431.5L202.5 430.4L202.0 429.4L201.5 428.3L201.0 427.3L200.5 426.3L200.0 425.2L199.5 424.2L199.0 423.2L198.5 422.2L198.0 421.2L197.5 420.2L197.0 419.2L196.5 418.2L196.0 417.2L195.5 416.2L195.0 415.3L194.5 414.3L194.0 413.4L193.5 412.5L193.0 411.5L192.5 410.6L192.0 409.7L191.5 408.9L191.0 408.0L190.5 407.2L190.0 406.3L189.5 405.5L189.0 404.7L188.5 403.9L188.0 403.2L187.5 402.4L187.0 401.7L186.5 401.0L186.0 400.3L185.5 399.6L185.0 399.0L184.5 398.4L184.0 397.8L183.5 397.2L183.0 396.6L182.5 396.1L182.0 395.6L181.5 395.1L181.0 394.6L180.5 394.2L180.0 393.7L179.5 393.3L179.0 392.9L178.5 392.5L178.0 392.2L177.5 391.8L177.0 391.5L176.5 391.2L176.0 390.9L175.5 390.6L175.0 390.3L174.5 390.1L174.0 389.9L173.5 389.6L173.0 389.4L172.5 389.3L172.0 389.1L171.5 388.9L171.0 388.8L170.5 388.6L170.0 388.5L169.5 388.4L169.0 388.3L168.5 388.2L168.0 388.1L167.5 388.0L167.0 388.0L166.5 387.9L166.0 387.9L165.5 387.8L165.0 387.8L164.5 387.8L164.0 387.8L163.5 387.8L163.0 387.8L162.5 387.8L162.0 387.8L161.5 387.8L161.0 387.8L160.5 387.9L160.0 387.9L159.5 388.0L159.0 388.0Z" fill="#cccccc" stroke="none" shape-rendering="crispEdges"/>
<path d="M159.3 353.3L159.8 353.7L160.3 354.1L160.8 354.5L161.3 355.0L161.8 355.4L162.3 355.8L162.8 356.3L163.3 356.7L163.8 357.1L164.3 357.6L164.8 358.0L165.3 358.5L165.8 358.9L166.3 359.4L166.8 359.8L167.3 360.3L167.8 360.7L168.3 361.2L168.8 361.7L169.3 362.1L169.8 362.6L170.3 363.1L170.8 363.5L171.3 364.0L171.8 364.5L172.3 364.9L172.8 365.4L173.3 365.9L173.8 366.4L174.3 366.9L174.8 367.4L175.3 367.8L175.8 368.3L176.3 368.8L176.8 369.3L177.3 369.8L177.8 370.3L178.3 370.8L178.8 371.3L179.3 371.8L179.8 372.3L180.3 372.8L180.8 373.3L181.3 373.8L181.8 374.3L182.3 374.8L182.8 375.3L183.3 375.8L183.8 376.3L184.3 376.8L184.8 377.3L185.3 377.8L185.8 378.3L186.3 378.8L186.8 379.3L187.3 379.8L187.8 380.3L188.3 380.8L188.8 381.3L189.3 381.8L189.8 382.3L190.3 382.8L190.8 383.3L191.3 383.8L191.8 384.3L192.3 384.8L192.8 385.3L193.3 385.8L193.8 386.3L194.3 386.8L194.8 387.3L195.3 387.8L195.8 388.3L196.3 388.8L196.8 389.3L197.3 389.7L197.8 390.2L198.3 390.7L198.8 391.2L199.3 391.7L199.8 392.2L200.3 392.7L200.8 393.1L201.3 393.6L201.8 394.1L202.3 394.6L202.8 395.1L203.3 395.5L203.8 396.0L204.3 396.5L204.8 396.9L205.3 397.4L205.8 397.9L206.3 398.3L206.8 398.8L207.3 399.2L207.8 399.7L208.3 400.2L208.8 400.6L209.3 401.1L209.8 401.5L210.3 401.9L210.8 402.4L211.3 402.8L211.8 403.3L212.3 403.7L212.8 404.1L213.3 404.5L213.8 405.0L214.3 405.4L214.8 405.8L215.3 406.2L215.8 406.6L216.3 407.0L216.8 407.4L217.3 407.8L217.8 408.2L218.3 408.6L218.8 409.0L219.3 409.4L219.8 409.8L220.3 410.2L220.8 410.5L221.3 410.9L221.8 411.3L222.3 411.6L222.8 412.0L223.3 412.3L223.8 412.7L224.3 413.0L224.8 413.4L225.3 413.7L225.8 414.1L226.3 414.4L226.8 414.7L227.3 415.0L227.8 415.3L228.3 415.7L228.8 416.0L229.3 416.3L229.8 416.6L230.3 416.9L230.8 417.1L231.3 417.4L231.8 417.7L232.3 418.0L232.8 418.2L233.3 418.5L233.8 418.8L234.3 419.0L234.8 419.3L235.3 419.5L235.8 419.7L236.3 420.0L236.8 420.2L237.3 420.4L237.8 420.6L238.3 420.8L238.8 421.0L239.3 421.2L239.8 421.4L240.3 421.6L240.8 421.7L241.3 421.9L241.8 422.1L242.3 422.2L242.8 422.4L243.3 422.5L243.8 422.7L244.3 422.8L244.8 422.9L245.3 423.0L245.8 423.1L246.3 423.2L246.8 423.3L247.3 423.4L247.8 423.5L248.3 423.6L248.8 423.6L249.3 423.7L249.8 423.7L250.3 423.8L250.8 423.8L251.3 423.8L251.8 423.8L252.3 423.8L252.8 423.8L253.3 423.8L253.8 423.8L254.3 423.8L254.8 423.7L255.3 423.7L255.8 423.7L256.3 423.6L256.8 423.5L257.3 423.4L257.8 423.3L258.3 423.2L258.8 423.1L259.3 423.0L259.8 422.9L260.3 422.8L260.8 422.6L261.3 422.4L261.8 422.3L262.3 422.1L262.8 421.9L263.3 421.7L263.8 421.5L264.3 421.3L264.8 421.1L265.3 420.8L265.8 420.6L266.3 420.3L266.8 420.0L267.3 419.8L267.8 419.5L268.3 419.2L268.8 418.9L269.3 418.5L269.8 418.2L270.3 417.9L270.8 417.5L271.3 417.2L271.8 416.8L272.3 416.4L272.8 416.1L273.3 415.7L273.8 415.3L274.3 414.9L274.8 414.5L275.3 414.0L275.8 413.6L276.3 413.2L276.8 412.7L277.3 412.3L277.8 411.8L278.3 411.4L278.8 410.9L279.3 410.4L279.8 410.0L280.3 409.5L280.8 409.0L281.3 408.5L281.8 408.0L282.3 407.5L282.8 407.0L283.3 406.5L283.8 405.9L284.3 405.4L284.8 404.9L285.3 404.3L285.8 403.8L286.3 403.3L286.8 402.7L287.3 402.2L287.8 401.6L288.3 401.0L288.8 400.5L289.3 399.9L289.8 399.4L290.3 398.8L290.8 398.2L291.3 397.6L291.8 397.1L292.3 396.5L292.8 395.9L293.3 395.3L293.8 394.7L294.3 394.2L294.8 393.6L295.3 393.0L295.8 392.4L296.3 391.8L296.8 391.2L297.3 390.6L297.8 390.0L298.3 389.4L298.8 388.8L299.3 388.2L299.8 387.6L300.3 387.0L300.8 386.4L301.3 385.8L301.8 385.2L302.3 384.6L302.8 384.0L303.3 383.4L303.8 382.8L304.3 382.2L304.8 381.6L305.3 381.0L305.8 380.4L306.3 379.8L306.8 379.2L307.3 378.5L307.8 377.9L308.3 377.3L308.8 376.7L309.3 376.1L309.8 375.5L310.3 374.8L310.8 374.2L311.3 373.6L311.8 373.0L312.3 372.3L312.8 371.7L313.3 371.1L313.8 370.5L314.3 369.8L314.8 369.2L315.3 368.6L315.8 367.9L316.3 367.3L316.8 366.7L317.3 366.0L317.8 365.4L318.3 364.7L318.8 364.1L319.3 363.5L319.8 362.8L320.3 362.2L320.8 361.5L321.3 360.9L321.8 360.2L322.3 359.6L322.8 358.9L323.3 358.3L323.8 357.6L324.3 357.0L324.8 356.3L325.3 355.7L325.8 355.0L326.3 354.4L326.8 353.7L327.3 353.0L327.8 352.4L328.3 351.7L328.8 351.1L329.3 350.4L329.8 349.8L330.3 349.1L330.8 348.5L331.3 347.8L331.8 347.2L332.3 346.5L332.8 345.9L333.3 345.3L333.8 344.7L334.3 344.0L334.8 343.4L335.3 342.8L335.8 342.2L336.3 341.6L336.8 341.0L337.3 340.5L337.8 339.9L338.3 339.3L338.8 338.8L339.3 338.2L339.8 337.7L340.3 337.1L340.8 336.6L341.3 336.1L341.8 335.6L342.3 335.1L342.8 334.7L343.3 334.2L343.8 333.7L344.3 333.3L344.8 332.9L345.3 332.5L345.8 332.1L346.3 331.7L346.8 331.3L347.3 330.9L347.8 330.6L348.3 330.3L348.8 329.9L349.3 329.6L349.8 329.4L350.3 329.1L350.8 328.8L351.3 328.6L351.8 328.4L352.3 328.2L352.8 328.0L353.3 327.9L353.8 327.7L354.3 327.6L354.8 327.5L355.3 327.4L355.8 327.3L356.3 327.3L356.8 327.2L357.3 327.2L357.8 327.2L358.3 327.2L358.8 327.3L359.3 327.3L359.8 327.4L360.3 327.5L360.8 327.6L361.3 327.8L361.8 327.9L362.3 328.1L362.8 328.3L363.3 328.5L363.8 328.8L364.3 329.0L364.8 329.3L365.3 329.6L365.8 329.9L366.3 330.3L366.8 330.6L367.3 331.0L367.8 331.4L368.3 331.9L368.8 332.3L369.3 332.8L369.8 333.3L370.3 333.8L370.8 334.3L371.3 334.9L371.8 335.5L372.3 336.1L372.8 336.7L373.3 337.4L373.8 338.0L374.3 338.7L374.8 339.5L375.3 340.2L375.8 341.0L376.3 341.8L376.8 342.6L377.3 343.4L377.8 344.3L378.3 345.2L378.8 346.1L379.3 347.1L379.8 348.0L380.3 349.0L380.8 350.0L381.3 351.0L381.8 352.1L382.3 353.1L382.8 354.2L383.3 355.3L383.8 356.4L384.3 357.5L384.8 358.6L385.3 359.8L385.8 360.9L386.3 362.1L386.8 363.3L387.3 364.5L387.8 365.7L388.3 366.9L388.8 368.1L389.3 369.4L389.8 370.6L390.3 371.8L390.8 373.1L391.3 374.3L391.8 375.6L392.3 376.9L392.8 378.1L393.3 379.4L393.8 380.6L394.3 381.9L394.8 383.2L395.3 384.4L395.8 385.7L396.3 386.9L396.8 388.2L397.3 389.4L397.8 390.7L398.3 391.9L398.8 393.1L399.3 394.4L399.8 395.6L400.3 396.8L400.8 398.0L401.3 399.2L401.8 400.3L402.3 401.5L402.8 402.7L403.3 403.8L403.8 404.9L404.3 406.1L404.8 407.2L405.3 408.3L405.8 409.4L406.3 410.5L406.8 411.5L407.3 412.6L407.8 413.6L408.3 414.7L408.8 415.7L409.3 416.7L409.8 417.7L410.3 418.7L410.8 419.7L411.3 420.6L411.8 421.6L412.3 422.5L412.8 423.5L413.3 424.4L413.8 425.3L414.3 426.2L414.8 427.0L415.3 427.9L415.8 428.8L416.3 429.6L416.8 430.4L417.3 431.2L417.8 432.0L418.3 432.8L418.8 433.6L419.3 434.3L419.8 435.1L420.3 435.8L420.8 436.5L421.3 437.3L421.8 438.0L422.3 438.6L422.8 439.3L423.3 440.0L423.8 440.6L424.3 441.3L424.8 441.9L425.3 442.6L425.8 443.2L426.3 443.8L426.8 444.4L427.3 445.0L427.8 445.5L428.3 446.1L428.8 446.7L429.3 447.2L429.8 447.7L430.3 448.3L430.8 448.8L431.3 449.3L431.8 449.8L432.3 450.3L432.8 450.8L433.3 451.3L433.8 451.8L434.3 452.2L434.8 452.7L435.3 453.1L435.8 453.6L436.3 454.0L436.8 454.5L437.3 454.9L437.8 455.3L438.3 455.7L438.8 456.1L439.3 456.5L439.8 456.9L440.3 457.3L440.8 457.7L441.3 458.1L441.8 458.4L442.3 458.8L442.8 459.1L443.3 459.5L443.8 459.8L444.3 460.2L444.8 460.5L445.3 460.8L445.8 461.1L446.3 461.4L446.8 461.7L447.3 462.0L447.8 462.2L448.3 462.5L448.8 462.7L449.3 462.9L449.8 463.1L450.3 463.3L450.8 463.5L451.3 463.7L451.8 463.9L452.3 464.0L452.8 464.1L453.3 464.2L453.8 464.3L454.3 464.4L454.8 464.5L455.3 464.5L455.8 464.5L456.3 464.5L456.8 464.5L457.3 464.5L457.8 464.5L458.3 464.4L458.8 464.3L459.3 464.2L459.8 464.1L460.3 463.9L460.8 463.7L461.3 463.5L461.8 463.3L462.3 463.1L462.8 462.8L463.3 462.5L463.8 462.2L464.3 461.9L464.8 461.5L465.3 461.2L465.8 460.7L466.3 460.3L466.8 459.8L467.3 459.4L467.8 458.8L468.3 458.3L468.8 457.7L469.3 457.1L469.8 456.5L470.3 455.9L470.8 455.2L471.3 454.5L471.8 453.8L472.3 453.0L472.8 452.3L473.3 451.5L473.8 450.7L474.3 449.9L474.8 449.0L475.3 448.1L475.8 447.3L476.3 446.3L476.8 445.4L477.3 444.5L477.8 443.5L478.3 442.5L478.8 441.5L479.3 440.5L479.8 439.5L480.3 438.5L480.8 437.4L481.3 436.4L481.8 435.3L482.3 434.2L482.8 433.1L483.3 432.0L483.8 430.8L484.3 429.7L484.8 428.5L485.3 427.4L485.8 426.2L486.3 425.0L486.8 423.9L487.3 422.7L487.8 421.5L488.3 420.3L488.8 419.0L489.3 417.8L489.8 416.6L490.3 415.3L490.8 414.1L491.3 412.8L491.8 411.5L492.3 410.2L492.8 408.9L493.3 407.6L493.8 406.3L494.3 404.9L494.8 403.5L495.3 402.1L495.8 400.7L496.3 399.3L496.8 397.8L497.3 396.4L497.8 394.9L498.3 393.3L498.8 391.8L499.3 390.2L499.8 388.7L500.3 387.0L500.8 385.4L501.3 383.7L501.8 382.0L502.3 380.3L502.8 378.5L503.3 376.8L503.8 374.9L504.3 373.1L504.8 371.3L505.3 369.4L505.8 367.6L506.3 365.7L506.8 363.9L507.3 362.1L507.8 360.3L508.3 358.5L508.8 356.7L509.3 355.0L509.8 353.3L510.3 351.6L510.8 350.0L511.3 348.4L511.8 346.8L512.3 345.3L512.8 343.9L513.3 342.4L513.8 341.0L514.3 339.6L514.8 338.3L515.3 337.0L515.8 335.7L516.3 334.4L516.8 333.2L517.3 332.0L517.8 330.8L518.3 329.6L518.8 328.4L519.3 327.3L519.8 326.1L520.3 325.0L520.8 323.9L521.3 322.8L521.8 321.7L522.3 320.7L522.8 319.6L523.3 318.5L523.8 317.5L524.3 316.4L524.8 315.4L525.3 314.4L525.8 313.4L526.3 312.3L526.8 311.3L527.3 310.4L527.8 309.4L528.3 308.4L528.8 307.5L529.3 306.5L529.8 305.6L530.3 304.7L530.8 303.8L531.3 302.9L531.8 302.0L532.3 301.2L532.8 300.4L533.3 299.5L533.8 298.8L534.3 298.0L534.8 297.2L535.3 296.5L535.8 295.8L536.3 295.1L536.8 294.4L537.3 293.7L537.8 293.1L538.3 292.5L538.8 291.9L539.3 291.3L539.8 290.7L540.3 290.2L540.8 289.7L541.3 289.2L541.8 288.7L542.3 288.3L542.8 287.9L543.3 287.5L543.8 287.1L544.3 286.8L544.8 286.4L545.3 286.1L545.8 285.8L546.3 285.6L546.8 285.4L547.3 285.2L547.8 285.0L548.3 284.8L548.8 284.7L549.3 284.6L549.8 284.5L550.3 284.5L550.8 284.5L551.3 284.5L551.8 284.5L552.3 284.5L552.8 284.6L553.3 284.7L553.8 284.9L554.3 285.1L554.8 285.3L555.3 285.5L555.8 285.7L556.3 286.0L556.8 286.3L557.3 286.7L557.8 287.0L558.3 287.4L558.8 287.9L559.3 288.3L559.8 288.8L560.3 289.3L560.8 289.9L561.3 290.5L561.8 291.1L562.3 291.7L562.8 292.4L563.3 293.1L563.8 293.9L564.3 294.7L564.8 295.5L565.3 296.3L565.8 297.2L566.3 298.1L566.8 299.0L567.3 300.0L567.8 301.0L568.3 302.1L568.8 303.1L569.3 304.3L569.8 305.4L570.3 306.6L570.8 307.8L571.3 309.1L571.8 310.3L572.3 311.7L572.8 313.0L573.3 314.4L573.8 315.9L574.3 317.3L574.8 318.8L575.3 320.4L575.8 321.9L576.3 323.5L576.8 325.1L577.3 326.8L577.8 328.5L578.3 330.2L578.8 331.9L579.3 333.6L579.8 335.4L580.3 337.2L580.8 339.0L581.3 340.8L581.8 342.7L582.3 344.6L582.8 346.5L583.3 348.4L583.8 350.3L584.3 352.2L584.8 354.2L585.3 356.1L585.8 358.1L586.3 360.1L586.8 362.1L587.3 364.1L587.8 366.1L588.3 368.1L588.8 370.2L589.3 372.2L589.8 374.3L590.3 376.4L590.8 378.5L591.3 380.7L591.8 382.8L592.3 385.0L592.8 387.3L593.3 389.5L593.8 391.7L594.3 394.0L594.8 396.3L595.3 398.5L595.8 400.7L596.3 402.9L596.8 405.1L597.3 407.2L597.8 409.3L598.3 411.4L598.8 413.4L599.3 415.4L599.8 417.4L600.3 419.4L600.8 421.3L601.3 423.2L601.8 425.0L602.3 426.9L602.8 428.7L603.3 430.4L603.8 432.2L604.3 433.9L604.8 435.5L605.3 437.2L605.8 438.8L606.3 440.4L606.8 441.9L607.3 443.5L607.8 444.9L608.3 446.4L608.8 447.8L609.3 449.3L609.8 450.6L610.3 452.0L610.8 453.3L611.3 454.6L611.8 455.8L612.3 457.1L612.8 458.3L613.3 459.4L613.8 460.6L614.3 461.7L614.8 462.8L615.3 463.8L615.8 464.9L616.3 465.9L616.8 466.8L617.3 467.8L617.8 468.7L618.3 469.6L618.8 470.4L619.3 471.3L619.8 472.1L620.3 472.9L620.8 473.6L621.3 474.3L621.8 475.0L622.3 475.7L622.8 476.3L623.3 476.9L623.8 477.5L624.3 478.1L624.8 478.6L625.3 479.1L625.8 479.5L626.3 480.0L626.8 480.4L627.3 480.8L627.8 481.2L628.3 481.5L628.8 481.8L629.3 482.1L629.8 482.3L630.3 482.6L630.8 482.8L631.3 483.0L631.8 483.1L632.3 483.2L632.8 483.3L633.3 483.4L633.8 483.4L634.3 483.5L634.8 483.5L635.3 483.4L635.8 483.4L636.3 483.3L636.8 483.2L637.3 483.0L637.8 482.9L638.3 482.7L638.8 482.5L639.3 482.2L639.8 482.0L640.3 481.7L640.8 481.4L641.3 481.0L641.8 480.7L642.3 480.3L642.8 479.9L643.3 479.4L643.8 479.0L644.3 478.5L644.8 478.0L645.3 477.5L645.8 476.9L646.3 476.3L646.8 475.7L647.3 475.1L647.8 474.4L648.3 473.7L648.8 473.0L649.3 472.3L649.8 471.6L650.3 470.8L650.8 470.0L651.3 469.2L651.8 468.3L652.3 467.4L652.8 466.5L653.3 465.6L653.8 464.7L654.3 463.7L654.8 462.8L655.3 461.8L655.8 460.7L656.3 459.7L656.8 458.7L657.3 457.6L657.8 456.5L658.3 455.4L658.8 454.3L659.3 453.1L659.8 452.0L660.3 450.8L660.8 449.6L661.3 448.4L661.8 447.2L662.3 445.9L662.8 444.7L663.3 443.4L663.8 442.1L664.3 440.9L664.8 439.6L665.3 438.3L665.8 436.9L666.3 435.6L666.8 434.3L667.3 432.9L667.8 431.6L668.3 430.2L668.8 428.8L669.3 427.4L669.8 426.0L670.3 424.6L670.8 423.2L671.3 421.8L671.8 420.4L672.3 419.0L672.8 417.5L673.3 416.1L673.8 414.7L674.3 413.2L674.8 411.8L675.3 410.4L675.8 408.9L676.3 407.5L676.8 406.0L677.3 404.6L677.8 403.1L678.3 401.7L678.8 400.2L679.3 398.8L679.8 397.3L680.3 395.9L680.8 394.4L681.3 393.0L681.8 391.6L682.3 390.1L682.8 388.7L683.3 387.3L683.8 385.8L684.3 384.4L684.8 383.0L685.3 381.5L685.8 380.1L686.3 378.7L686.8 377.2L687.3 375.7L687.8 374.2L688.3 372.7L688.8 371.2L689.3 369.6L689.8 368.1L690.3 366.5L690.8 364.9L691.3 363.2L691.8 361.5L692.3 359.8L692.8 358.0L693.3 356.2L693.8 354.4L694.3 352.5L694.8 350.6L695.3 348.7L695.8 346.7L696.3 344.6L696.8 342.5L697.3 340.4L697.8 338.3L698.3 336.1L698.8 333.9L699.3 331.7L699.8 329.5L700.3 327.3L700.8 325.1L701.3 322.8L701.8 320.6L702.3 318.4L702.8 316.2L703.3 314.0L703.8 311.9L704.3 309.7L704.8 307.6L705.3 305.5L705.8 303.4L706.3 301.4L706.8 299.4L707.3 297.4L707.8 295.5L708.3 293.6L708.8 291.8L709.3 290.0L709.8 288.3L710.3 286.6L710.8 285.0L711.3 283.4L711.8 281.9L712.3 280.4L712.8 279.1L713.3 277.7L713.8 276.5L714.3 275.3L714.8 274.2L715.3 273.2L715.8 272.3L716.3 271.5L716.8 270.7L717.3 270.0L717.8 269.4L718.3 268.9L718.8 268.5L719.3 268.2L719.8 268.0L720.3 267.8L720.8 267.8L721.3 267.9L721.8 268.0L722.3 268.3L722.8 268.6L723.3 269.1L723.8 269.7L724.3 270.3L724.8 271.1L725.3 272.0L725.8 273.0L726.3 274.1L726.8 275.3L727.3 276.6L727.8 278.0L728.3 279.5L728.8 281.2L729.3 282.9L729.8 284.7L730.3 286.5L730.8 288.5L731.3 290.6L731.8 292.7L732.3 294.9L732.8 297.1L733.3 299.5L733.8 301.9L734.3 304.3L734.8 306.8L735.3 309.4L735.8 312.0L736.3 314.7L736.8 317.4L737.3 320.1L737.8 322.9L738.3 325.7L738.8 328.6L739.3 331.5L739.8 334.4L740.3 337.3L740.8 340.2L741.3 343.2L741.8 346.1L742.3 349.1L742.8 352.0L743.3 355.0L743.8 358.0L744.3 360.9L744.8 363.9L745.3 366.8L745.8 369.8L746.3 372.7L746.8 375.6L747.3 378.5L747.8 381.3L748.3 384.2L748.8 387.0L749.3 389.8L749.8 392.6L750.3 395.4L750.8 398.1L751.3 400.8L751.8 403.4L752.3 406.1L752.8 408.7L753.3 411.2L753.8 413.8L754.3 416.2L754.8 418.7L755.3 421.1L755.8 423.4L756.3 425.8L756.8 428.0L757.3 430.2L757.8 432.4L758.3 434.5L758.8 436.6L759.3 438.6L759.8 440.5L760.3 442.4L760.8 444.3L761.3 446.0L761.8 447.7L762.3 449.4L762.8 450.9L763.3 452.4L763.8 453.9L764.3 455.2L764.8 456.5L765.3 457.7L765.8 458.9L766.3 459.9L766.8 460.9L767.3 461.8L767.8 462.7L768.3 463.4L768.8 464.1L769.3 464.7L769.8 465.3L770.3 465.7L770.8 466.2L771.3 466.5L771.8 466.8L772.3 467.0L772.8 467.1L773.3 467.2L773.8 467.3L774.3 467.2L774.8 467.2L775.3 467.0L775.8 466.8L776.3 466.6L776.8 466.3L777.3 465.9L777.8 465.6L778.3 465.1L778.8 464.6L779.3 464.1L779.8 463.5L780.3 462.9L780.8 462.2L781.3 461.5L781.8 460.8L782.3 460.0L782.8 459.2L783.3 458.4L783.8 457.5L784.3 456.6L784.8 455.7L785.3 454.7L785.8 453.7L786.3 452.7L786.8 451.7L787.3 450.6L787.8 449.5L788.3 448.4L788.8 447.3L789.3 446.2L789.8 445.0L790.3 443.9L790.8 442.8L791.3 441.6L791.8 440.5L792.3 439.4L792.8 438.3L793.3 437.1L793.8 436.0L794.3 435.0L794.8 433.9L795.3 432.9L795.8 431.9L796.3 430.9L796.8 429.9L797.3 429.0L797.8 428.1L798.3 427.2L798.8 426.4L799.3 425.7L799.8 424.9L800.3 424.3L800.8 423.6L801.3 423.0L801.8 422.5L802.3 421.9L802.8 421.4L803.3 421.0L803.8 420.6L804.3 420.2L804.8 419.8L805.3 419.5L805.8 419.2L806.3 418.9L806.8 418.7L807.3 418.4L807.8 418.2L808.3 418.0L808.8 417.9L809.3 417.7L809.8 417.6L810.3 417.5L810.8 417.4L811.3 417.3L811.8 417.3L812.3 417.2L812.8 417.2L813.3 417.1L813.8 417.1L814.3 417.0L814.8 416.9L815.3 416.9L815.8 416.8L816.3 416.7L816.8 416.6L817.3 416.5L817.8 416.4L818.3 416.2L818.8 416.0L819.3 415.8L819.8 415.6L820.3 415.3L820.8 415.0L821.3 414.6L821.8 414.2L822.3 413.8L822.8 413.3L823.3 412.8L823.8 412.2L824.3 411.5L824.8 410.8L825.3 410.1L825.8 409.2L826.3 408.4L826.8 407.4L827.3 406.4L827.8 405.3L828.3 404.1L828.8 402.8L829.3 401.5L829.8 400.1L830.3 398.6L830.8 397.0L831.3 395.2L831.8 393.4L832.3 391.5L832.8 389.4L833.3 387.1L833.8 384.7L834.3 382.2L834.8 379.4L835.3 376.5L835.8 373.4L836.3 370.2L836.8 366.8L837.3 363.4L837.8 359.9L838.3 356.5L838.8 353.0L839.3 349.7L839.8 346.4L840.3 343.3L840.8 340.3L841.3 337.4L841.8 334.7L842.3 332.0L842.8 329.4L843.3 326.9L843.8 324.5L844.3 322.1L844.8 319.7L845.3 317.4L845.8 315.1L846.3 312.7L846.8 310.3L847.3 308.0L847.8 305.6L848.3 303.3L848.8 301.0L849.3 298.8L849.8 296.7L850.3 294.6L850.8 292.6L851.3 290.7L851.8 288.9L852.3 287.2L852.8 285.6L853.3 284.2L853.8 282.8L854.3 281.5L854.8 280.3L855.3 279.2L855.8 278.2L856.3 277.3L856.8 276.5L857.3 275.8L857.8 275.1L858.3 274.6L858.8 274.1L859.3 273.7L859.8 273.4L860.3 273.2L860.8 273.1L861.3 273.0L861.8 273.0L862.3 273.1L862.8 273.3L863.3 273.5L863.8 273.8L864.3 274.2L864.8 274.7L865.3 275.2L865.8 275.8L866.3 276.4L866.8 277.1L867.3 277.9L867.8 278.7L868.3 279.6L868.8 280.6L869.3 281.6L869.8 282.6L870.3 283.7L870.8 284.9L871.3 286.1L871.8 287.4L872.3 288.7L872.8 290.0L873.3 291.4L873.8 292.9L874.3 294.3L874.8 295.9L875.3 297.4L875.8 299.0L876.3 300.6L876.8 302.3L877.3 304.0L877.8 305.8L878.3 307.5L878.8 309.3L879.3 311.2L879.8 313.1L880.3 315.0L880.8 316.9L881.3 318.9L881.8 320.9L882.3 323.0L882.8 325.1L883.3 327.2L883.8 329.3L884.3 331.5L884.8 333.8L885.3 336.0L885.8 338.3L886.3 340.6L886.8 343.0L887.3 345.4L887.8 347.8L888.3 350.3L888.8 352.8L889.3 355.4L889.8 358.1L890.3 360.9L890.8 363.7L891.3 366.7L891.8 369.9L892.3 373.1L892.8 376.6L893.3 380.2L893.8 384.0L894.3 387.9L894.8 392.1L895.3 396.6L895.8 401.2L896.3 406.1L896.8 411.2L897.3 416.5L897.8 421.8L898.3 427.2L898.8 432.5L899.3 437.7L899.8 442.8L900.3 447.8L900.8 452.6L901.3 457.3L901.8 461.9L902.3 466.3L902.8 470.7L903.3 474.9L903.8 479.2L904.3 483.5L904.8 488.1L905.3 492.8L905.8 497.9L906.3 503.3L906.8 509.1L907.3 515.1L907.8 521.1L908.3 527.1L908.8 532.8L909.3 538.2L909.8 543.2L910.3 547.9L910.8 552.2L911.3 556.2L911.8 560.0L912.3 563.5L912.8 566.9L913.3 570.0L913.8 572.9L914.3 575.6L914.8 578.0L915.3 580.1L915.8 582.0L916.3 583.5L916.8 584.7L917.3 585.6L917.8 586.1L918.3 586.2L918.8 585.9L919.3 585.3L919.8 584.3L920.3 582.9L920.8 581.3L921.3 579.3L921.8 577.0L922.3 574.4L922.8 571.5L923.3 568.3L923.8 564.9L924.3 561.3L924.8 557.4L925.3 553.3L925.8 549.0L926.3 544.5L926.8 539.9L927.3 535.2L927.8 530.4L928.3 525.6L928.8 520.8L929.3 515.9L929.8 511.1L930.3 506.4L930.8 501.8L931.3 497.3L931.8 493.0L932.3 488.8L932.8 484.7L933.3 480.2L933.8 475.0L934.3 468.8L934.8 461.3L935.3 452.7L935.8 443.5L936.3 434.2L936.8 425.5L937.3 417.3L937.8 409.4L938.3 401.5L938.8 393.2L939.3 384.3L939.8 374.9L940.3 365.3L940.8 355.8L941.3 346.9L941.8 338.6L942.3 330.9L942.8 323.6L943.3 316.6L943.8 310.0L944.3 303.4L944.8 297.0L945.3 290.5L945.8 284.1L946.3 277.6L946.8 271.3L947.3 265.2L947.8 259.3L948.3 253.7L948.8 248.3L949.3 243.3L949.8 238.5L950.3 233.9L950.8 229.6L951.3 225.5L951.8 221.7L952.3 218.2L952.8 214.8L953.3 211.7L953.8 208.8L954.3 206.2L954.8 203.8L955.3 201.5L955.8 199.5L956.3 197.7L956.8 196.1L957.3 194.7L957.8 193.5L958.3 192.5L958.8 191.7L959.3 191.0L959.8 190.5L960.3 190.2L960.8 190.1L961.3 190.1L961.8 190.3L962.3 190.7L962.8 191.4L963.3 192.2L963.8 193.2L964.3 194.5L964.8 196.1L965.3 197.9L965.8 200.0L966.3 202.3L966.8 205.0L967.3 207.9L967.8 211.2L968.3 214.8L968.8 218.6L969.3 222.7L969.8 226.9L970.3 231.2L970.8 235.5L971.3 239.8L971.8 243.9L972.3 248.1L972.8 252.3L973.3 256.6L973.8 261.0L974.3 265.6L974.8 270.5L975.3 275.8L975.8 281.4L976.3 287.4L976.8 293.9L977.3 300.8L977.8 308.2L978.3 315.9L978.8 324.0L979.3 332.3L979.8 340.8L980.3 349.4L980.8 358.1L981.3 366.9L981.8 375.6L982.3 384.3L982.8 393.0L983.3 401.9L983.8 410.8L984.3 420.0L984.8 429.5L985.3 439.8L985.8 451.0L986.3 463.4L986.8 476.7L987.3 489.9L987.8 502.3L988.3 512.9L988.8 521.7L989.3 529.2L989.8 536.1L990.3 542.7L990.8 549.7L991.3 557.2L991.8 564.8L992.3 572.3L992.8 579.6L993.3 586.2L993.8 592.3L994.3 597.9L994.8 603.1L995.3 608.0L995.8 612.9L996.3 617.7L996.8 622.5L997.3 627.1L997.8 631.4L998.3 635.2L998.8 638.4L999.3 640.9L999.8 642.8L1000.3 644.0L1000.8 644.6L1001.3 644.6L1001.8 644.0L1002.3 642.8L1002.8 641.0L1003.3 638.6L1003.8 635.7L1004.3 632.3L1004.8 628.3L1005.3 623.9L1005.8 618.9L1006.3 613.4L1006.8 607.5L1007.3 601.1L1007.8 594.3L1008.3 587.0L1008.8 579.3L1009.3 571.3L1009.8 562.8L1010.3 554.0L1010.8 544.9L1011.3 535.6L1011.8 526.0L1012.3 516.3L1012.8 506.4L1013.3 496.4L1013.8 486.3L1014.3 476.0L1014.8 465.5L1015.3 454.8L1015.8 443.8L1016.3 432.4L1016.8 420.7L1017.3 408.6L1017.8 396.2L1018.3 383.6L1018.8 370.8L1019.3 357.8L1019.8 344.8L1020.3 331.7L1020.8 318.5L1021.3 304.8L1021.8 290.4L1022.3 275.6L1022.8 261.4L1023.3 248.5L1023.8 237.1L1024.3 226.9L1024.8 217.4L1025.3 208.2L1025.8 199.0L1026.3 189.8L1026.8 180.8L1027.3 172.5L1027.8 165.1L1028.3 159.0L1028.8 154.2L1029.3 150.5L1029.8 147.6L1030.3 145.4L1030.8 143.6L1031.3 142.0L1031.8 140.6L1032.3 139.4L1032.8 138.4L1033.3 137.7L1033.8 137.4L1034.3 137.5L1034.8 138.1L1035.3 139.2L1035.8 140.9L1036.3 143.2L1036.8 146.2L1037.3 149.9L1037.8 154.4L1038.3 159.4L1038.8 165.1L1039.3 171.2L1039.8 177.7L1040.3 184.6L1040.8 191.7L1041.3 199.1L1041.8 206.5L1042.3 214.0L1042.8 221.4L1043.3 228.8L1043.8 236.2L1044.3 243.9L1044.8 252.1L1045.3 261.2L1045.8 271.4L1046.3 282.9L1046.8 295.5L1047.3 308.5L1047.8 321.5L1048.3 333.8L1048.8 345.2L1049.3 355.7L1049.8 365.4L1050.3 374.5L1050.8 383.0L1051.3 390.9L1051.8 398.4L1052.3 405.5L1052.8 412.3L1053.3 418.9L1053.8 425.3L1054.3 431.7L1054.8 438.0L1055.3 444.2L1055.8 450.3L1056.3 456.1L1056.8 461.7L1057.3 467.0L1057.8 472.0L1058.3 476.6L1058.8 480.8L1059.3 484.4L1059.8 487.6L1060.3 490.2L1060.8 492.2L1061.3 493.5L1061.8 494.1L1062.3 493.9L1062.8 493.1L1063.3 491.6L1063.8 489.6L1064.3 487.1L1064.8 484.4L1065.3 481.3L1065.8 478.2L1066.3 475.0L1066.8 471.7L1067.3 468.5L1067.8 465.2L1068.3 461.9L1068.8 458.6L1069.3 455.2L1069.8 451.7L1070.3 448.2L1070.8 444.6L1071.3 441.0L1071.8 437.2L1072.3 433.4L1072.8 429.5L1073.3 425.5L1073.8 421.4L1074.3 417.1L1074.8 412.8L1075.3 408.5L1075.8 404.2L1076.3 400.0L1076.8 395.9L1077.3 392.1L1077.8 388.5L1078.3 385.2L1078.8 382.2L1079.3 379.5L1079.8 377.1L1080.3 375.0L1080.8 373.3L1081.3 371.8L1081.8 370.7L1082.3 369.9L1082.8 369.4L1083.3 369.2L1083.8 369.3L1084.3 369.7L1084.8 370.3L1085.3 371.3L1085.8 372.5L1086.3 373.9L1086.8 375.7L1087.3 377.6L1087.8 379.8L1088.3 382.3L1088.8 384.9L1089.3 387.7L1089.8 390.7L1090.3 393.9L1090.8 397.2L1091.3 400.6L1091.8 404.1L1092.3 407.6L1092.8 411.3L1093.3 414.9L1093.8 418.6L1094.3 422.3L1094.8 426.0L1095.3 429.6L1095.8 433.2L1096.3 436.7L1096.8 440.1L1097.3 443.4L1097.8 446.5L1098.3 449.5L1098.8 452.4L1099.3 455.0L1099.8 457.5L1100.3 459.7L1100.8 461.7L1101.3 463.4L1101.8 464.8L1102.3 466.0L1102.8 466.8L1103.3 467.3L1103.8 467.6L1104.3 467.5L1104.8 467.1L1105.3 466.5L1105.8 465.6L1106.3 464.4L1106.8 462.9L1107.3 461.1L1107.8 459.1L1108.3 456.8L1108.8 454.2L1109.3 451.4L1109.8 448.3L1110.3 445.0L1110.8 441.4L1111.3 437.6L1111.8 433.6L1112.3 429.3L1112.8 424.8L1113.3 420.2L1113.8 415.4L1114.3 410.4L1114.8 405.3L1115.3 400.1L1115.8 394.7L1116.3 389.3L1116.8 383.9L1117.3 378.4L1117.8 372.8L1118.3 367.3L1118.8 361.7L1119.3 356.2L1119.8 350.7L1120.3 345.2L1120.8 339.9L1121.3 334.7L1121.8 329.7L1122.3 324.8L1122.8 320.2L1123.3 315.8L1123.8 311.7L1124.3 307.9L1124.8 304.4L1125.3 301.3L1125.8 298.6L1126.3 296.4L1126.8 294.5L1127.3 293.1L1127.8 292.1L1128.3 291.5L1128.8 291.2L1129.3 291.4L1129.8 291.9L1130.3 292.7L1130.8 293.9L1131.3 295.5L1131.8 297.3L1132.3 299.5L1132.8 301.9L1133.3 304.6L1133.8 307.7L1134.3 310.9L1134.8 314.5L1135.3 318.2L1135.8 322.2L1136.3 326.4L1136.8 330.8L1137.3 335.5L1137.8 340.2L1138.3 345.2L1138.8 350.3L1139.3 355.5L1139.8 360.8L1140.3 366.2L1140.8 371.7L1141.3 377.2L1141.8 382.8L1142.3 388.4L1142.8 394.1L1143.3 399.7L1143.8 405.4L1144.3 411.0L1144.8 416.5L1145.3 422.0L1145.8 427.4L1146.3 432.7L1146.8 437.9L1147.3 443.0L1147.8 447.9L1148.3 452.7L1148.8 457.3L1149.3 461.7L1149.8 465.9L1150.3 469.9L1150.8 473.7L1151.3 477.2L1151.8 480.4L1152.3 483.4L1152.8 486.1L1153.3 488.4L1153.8 490.5L1154.3 492.3L1154.8 493.7L1155.3 494.8L1155.8 495.6L1156.3 496.0L1156.8 496.0L1157.3 495.6L1157.8 494.9L1158.3 493.8L1158.8 492.2L1159.3 490.3L1159.8 487.9L1160.3 485.2L1160.8 482.1L1161.3 478.8L1161.8 475.2L1162.3 471.5L1162.8 467.5L1163.3 463.5L1163.8 459.3L1164.3 455.1L1164.8 450.9L1165.3 446.8L1165.8 442.6L1166.3 438.4L1166.8 434.1L1167.3 429.7L1167.8 425.1L1168.3 420.3L1168.8 415.2L1169.3 409.7L1169.8 404.0L1170.3 398.1L1170.8 392.1L1171.3 386.0L1171.8 380.0L1172.3 374.2L1172.8 368.7L1173.3 363.5L1173.8 358.5L1174.3 353.8L1174.8 349.5L1175.3 345.3L1175.8 341.5L1176.3 337.9L1176.8 334.5L1177.3 331.3L1177.8 328.4L1178.3 325.7L1178.8 323.2L1179.3 320.9L1179.8 318.8L1180.3 316.9L1180.8 315.1L1181.3 313.6L1181.8 312.1L1182.3 310.8L1182.8 309.7L1183.3 308.7L1183.8 307.8L1184.3 307.0L1184.8 306.4L1185.3 305.8L1185.8 305.4L1186.3 305.1L1186.8 304.9L1187.3 304.8L1187.8 304.9L1188.3 305.1L1188.8 305.5L1189.3 306.1L1189.8 306.8L1190.3 307.6L1190.8 308.7L1191.3 309.9L1191.8 311.2L1192.3 312.7L1192.8 314.2L1193.3 315.9L1193.8 317.7L1194.3 319.5L1194.8 321.4L1195.3 323.3L1195.8 325.3L1196.3 327.3L1196.8 329.3L1197.3 331.3L1197.8 333.4L1198.3 335.4L1198.8 337.4L1199.3 339.4L1199.8 341.4L1200.3 343.3L1200.8 345.2L1201.3 347.1L1201.8 348.9L1202.3 350.6L1202.8 352.3L1203.3 353.9L1203.8 355.4L1204.3 356.8L1204.8 358.1L1205.3 359.3L1205.8 360.4L1206.3 361.4L1206.8 362.4L1207.3 363.3L1207.8 364.1L1208.3 364.9L1208.8 365.7L1209.3 366.5L1209.8 367.3L1210.3 368.1L1210.8 368.9L1211.3 369.7L1211.8 370.5L1212.3 371.3L1212.8 372.1L1213.3 373.0L1213.8 373.8L1214.3 374.7L1214.8 375.5L1215.3 376.4L1215.8 377.3L1216.3 378.2L1216.8 379.1L1217.3 380.1L1217.8 381.0L1218.3 382.0L1218.8 383.0L1219.3 384.0L1219.8 385.0L1220.3 386.1L1220.8 387.2L1221.3 388.3L1221.8 389.4L1222.3 390.6L1222.8 391.7L1223.3 393.0L1223.8 394.2L1224.3 395.4L1224.8 396.7L1225.3 398.0L1225.8 399.3L1226.3 400.6L1226.8 401.8L1227.3 403.1L1227.8 404.4L1228.3 405.7L1228.8 407.0L1229.3 408.3L1229.8 409.5L1230.3 410.8L1230.8 412.0L1231.3 413.2L1231.8 414.3L1232.3 415.5L1232.8 416.5L1233.3 417.6L1233.8 418.6L1234.3 419.6L1234.8 420.5L1235.3 421.4L1235.8 422.2L1236.3 423.0L1236.8 423.7L1237.3 424.4L1237.8 425.0L1238.3 425.5L1238.8 426.0L1239.3 426.4L1239.8 426.7L1240.3 426.9L1240.8 427.1L1241.3 427.2L1241.8 427.2L1242.3 427.1L1242.8 427.0L1243.3 426.7L1243.8 426.3L1244.3 425.9L1244.8 425.4L1245.3 424.7L1245.8 424.0L1246.3 423.1L1246.8 422.1L1247.3 421.1L1247.8 419.9L1248.3 418.7L1248.8 417.4L1249.3 416.1L1249.8 414.7L1250.3 413.2L1250.8 411.7L1251.3 410.2L1251.8 408.6L1252.3 407.0L1252.8 405.4L1253.3 403.9L1253.8 402.3L1254.3 400.7L1254.8 399.2L1255.3 397.7L1255.8 396.2L1256.3 394.8L1256.8 393.4L1257.3 392.1L1257.8 390.8L1258.3 389.5L1258.8 388.4L1259.3 387.2L1259.8 386.2L1260.3 385.1L1260.8 384.2L1261.3 383.3L1261.8 382.4L1262.3 381.6L1262.8 380.9L1263.3 380.2L1263.8 379.5L1264.3 379.0L1264.8 378.5L1265.3 378.0L1265.8 377.6L1266.3 377.3L1266.8 377.0L1267.3 376.8L1267.8 376.7L1268.3 376.6L1268.8 376.5L1269.3 376.5L1269.8 376.5L1270.3 376.6L1270.8 376.7L1271.3 376.9L1271.8 377.1L1272.3 377.3L1272.8 377.5L1273.3 377.8L1273.8 378.1L1274.3 378.4L1274.8 378.7L1275.3 379.1L1275.8 379.4L1276.3 379.8L1276.8 380.2L1277.3 380.6L1277.8 380.9L1278.3 381.3L1278.8 381.7L1279.3 382.1L1279.8 382.5L1280.3 382.9L1280.8 383.2L1281.3 383.6L1281.8 383.9L1282.3 384.2L1282.8 384.5L1283.3 384.8L1283.8 385.0L1284.3 385.3L1284.8 385.5L1285.3 385.7L1285.8 385.9L1286.3 386.0L1286.8 386.1L1287.3 386.2L1287.8 386.3L1288.3 386.3L1288.8 386.3L1289.3 386.3L1289.8 386.2L1290.3 386.1L1290.8 386.0L1291.3 385.8L1291.8 385.7L1292.3 385.4L1292.8 385.2L1293.3 384.9L1293.8 384.6L1294.3 384.3L1294.8 384.0L1295.3 383.7L1295.8 383.4L1296.3 383.0L1296.8 382.7L1297.3 382.4L1297.8 382.0L1298.3 381.7L1298.8 381.4L1299.3 381.1L1299.8 380.8L1300.3 380.5L1300.8 380.3L1301.3 380.0L1301.8 379.8L1302.3 379.7L1302.8 379.5L1303.3 379.4L1303.8 379.3L1304.3 379.2L1304.8 379.2L1305.3 379.2L1305.8 379.3L1306.3 379.4L1306.8 379.6L1307.3 379.8L1307.8 380.0L1308.3 380.3L1308.8 380.7L1309.3 381.1L1309.8 381.5L1310.3 382.1L1310.8 382.6L1311.3 383.3L1311.8 384.0L1312.3 384.7L1312.8 385.5L1313.3 386.3L1313.8 387.1L1314.3 388.0L1314.8 388.9L1315.3 389.8L1315.8 390.7L1316.3 391.6L1316.8 392.6L1317.3 393.5L1317.8 394.4L1318.3 395.3L1318.8 396.2L1319.3 397.0L1319.8 397.9L1320.3 398.6L1320.8 399.4L1321.3 400.1L1321.8 400.8L1322.3 401.4L1322.8 401.9L1323.3 402.5L1323.8 402.9L1324.3 403.4L1324.8 403.8L1325.3 404.1L1325.8 404.4L1326.3 404.7L1326.8 404.9L1327.3 405.0L1327.8 405.1L1328.3 405.2L1328.8 405.2L1329.3 405.2L1329.8 405.1L1330.3 405.0L1330.8 404.9L1331.3 404.7L1331.8 404.5L1332.3 404.2L1332.8 403.9L1333.3 403.5L1333.8 403.1L1334.3 402.6L1334.8 402.1L1335.3 401.6L1335.8 401.0L1336.3 400.4L1336.8 399.7L1337.3 399.0L1337.8 398.2L1338.3 397.4L1338.8 396.6L1339.3 395.7L1339.8 394.8L1340.3 393.8L1340.8 392.9L1341.3 391.9L1341.8 390.8L1342.3 389.8L1342.8 388.8L1343.3 387.7L1343.8 386.7L1344.3 385.6L1344.8 384.6L1345.3 383.5L1345.8 382.5L1346.3 381.5L1346.8 380.5L1347.3 379.6L1347.8 378.7L1348.3 377.8L1348.8 377.0L1349.3 376.2L1349.8 375.5L1350.3 374.9L1350.8 374.3L1351.3 373.7L1351.8 373.3L1352.3 372.9L1352.8 372.6L1353.3 372.3L1353.8 372.2L1354.3 372.1L1354.8 372.1L1355.3 372.2L1355.8 372.3L1356.3 372.5L1356.8 372.7L1357.3 373.0L1357.8 373.4L1358.3 373.8L1358.8 374.2L1359.3 374.7L1359.8 375.3L1360.3 375.8L1360.8 376.4L1361.3 377.1L1361.8 377.7L1362.3 378.4L1362.8 379.1L1363.3 379.8L1363.8 380.6L1364.3 381.3L1364.8 382.1L1365.3 382.8L1365.8 383.6L1366.3 384.3L1366.8 385.1L1367.3 385.8L1367.8 386.5L1368.3 387.2L1368.8 387.9L1369.3 388.6L1369.8 389.2L1370.3 389.8L1370.8 390.4L1371.3 391.0L1371.8 391.5L1372.3 392.0L1372.8 392.4L1373.3 392.9L1373.8 393.3L1374.3 393.6L1374.8 394.0L1375.3 394.3L1375.8 394.5L1376.3 394.8L1376.8 395.0L1377.3 395.2L1377.8 395.4L1378.3 395.5L1378.8 395.7L1379.3 395.8L1379.8 395.8L1380.3 395.9L1380.8 395.9L1381.3 395.9L1381.8 395.9L1382.3 395.9L1382.8 395.8L1383.3 395.7L1383.8 395.6L1384.3 395.5L1384.8 395.3L1385.3 395.2L1385.8 395.0L1386.3 394.8L1386.8 394.6L1387.3 394.4L1387.8 394.1L1388.3 393.8L1388.8 393.6L1389.3 393.3L1389.8 393.0L1390.3 392.6L1390.8 392.3L1391.3 392.0L1391.8 391.6L1392.3 391.3L1392.8 390.9L1393.3 390.6L1393.8 390.2L1394.3 389.8L1394.8 389.5L1395.3 389.1L1395.8 388.7L1396.3 388.3L1396.8 388.0L1397.3 387.6L1397.8 387.2L1398.3 386.9L1398.8 386.5L1399.3 386.2L1399.8 385.9L1400.3 385.5L1400.8 385.2L1401.3 384.9L1401.8 384.6L1402.3 384.4L1402.8 384.1L1403.3 383.9L1403.8 383.6L1404.3 383.4L1404.8 383.2L1405.3 383.1L1405.8 382.9L1406.3 382.8L1406.8 382.7L1407.3 382.6L1407.8 382.6L1408.3 382.6L1408.8 382.6L1409.3 382.6L1409.8 382.7L1410.3 382.8L1410.8 382.9L1411.3 383.0L1411.8 383.1L1412.3 383.3L1412.8 383.5L1413.3 383.7L1413.8 383.9L1414.3 384.1L1414.8 384.4L1415.3 384.6L1415.8 384.8L1416.3 385.1L1416.8 385.3L1417.3 385.6L1417.8 385.8L1418.3 386.1L1418.8 386.3L1419.3 386.6L1419.8 386.8L1420.3 387.0L1420.8 387.2L1421.3 387.4L1421.8 387.6L1422.3 387.8L1422.8 387.9L1423.3 388.0L1423.8 388.1L1424.3 388.2L1424.8 388.3L1425.3 388.3L1425.8 388.3L1426.3 388.3L1426.8 388.2L1427.3 388.1L1427.8 388.0L1428.2 387.8" fill="none" stroke="#0067a8" stroke-width="4.6" stroke-linejoin="round" stroke-linecap="butt"/></g>
<rect x="171.5" y="517.5" width="576" height="139" fill="#fff" stroke="#000" stroke-width="1" shape-rendering="crispEdges"/>
<line x1="192" y1="551" x2="294" y2="551" stroke="#0067a8" stroke-width="4.2"/>
<rect x="192" y="611" width="102" height="20" fill="#cccccc" shape-rendering="crispEdges"/>
<rect x="243" y="551" width="1" height="1" fill="#000"/><rect x="243" y="621" width="1" height="1" fill="#000"/>
<text id="leg1" x="526.3" y="565.8" font-size="34" text-anchor="middle" textLength="312.3" lengthAdjust="spacingAndGlyphs">cWB max-likelihood</text>
<text id="leg2" x="525.9" y="636.3" font-size="34" text-anchor="middle" textLength="376.5" lengthAdjust="spacingAndGlyphs">cWB-LALInference 90%</text>
<text id="title" x="792.7" y="68.5" font-size="51" font-style="italic" text-anchor="middle">GW190512_180714 - Livingston</text>
<text class="xl" x="287.0" y="716.5" font-size="46" text-anchor="middle">0.36</text>
<text class="xl" x="543.5" y="716.5" font-size="46" text-anchor="middle">0.38</text>
<text class="xl" x="797.7" y="716.5" font-size="46" text-anchor="middle">0.4</text>
<text class="xl" x="1054.0" y="716.5" font-size="46" text-anchor="middle">0.42</text>
<text class="xl" x="1308.5" y="716.5" font-size="46" text-anchor="middle">0.44</text>
<text class="yl" x="138" y="218.8" font-size="46" text-anchor="end">2</text>
<text class="yl" x="138" y="404.8" font-size="46" text-anchor="end">0</text>
<text class="yl" x="138" y="589.8" font-size="46" text-anchor="end"><tspan dy="3.4">−</tspan><tspan dy="-3.4">2</tspan></text>
<text id="xt" x="794.7" y="775.6" font-size="45.2" text-anchor="middle">Time-1241719652 (s)</text>
<text id="yt" transform="translate(66.3 432.8) rotate(-90)" font-size="46"><tspan stroke="#000" stroke-width="0.9">σ</tspan><tspan font-size="30" dx="3" dy="12.5">noise</tspan></text>
</svg></body></html>
